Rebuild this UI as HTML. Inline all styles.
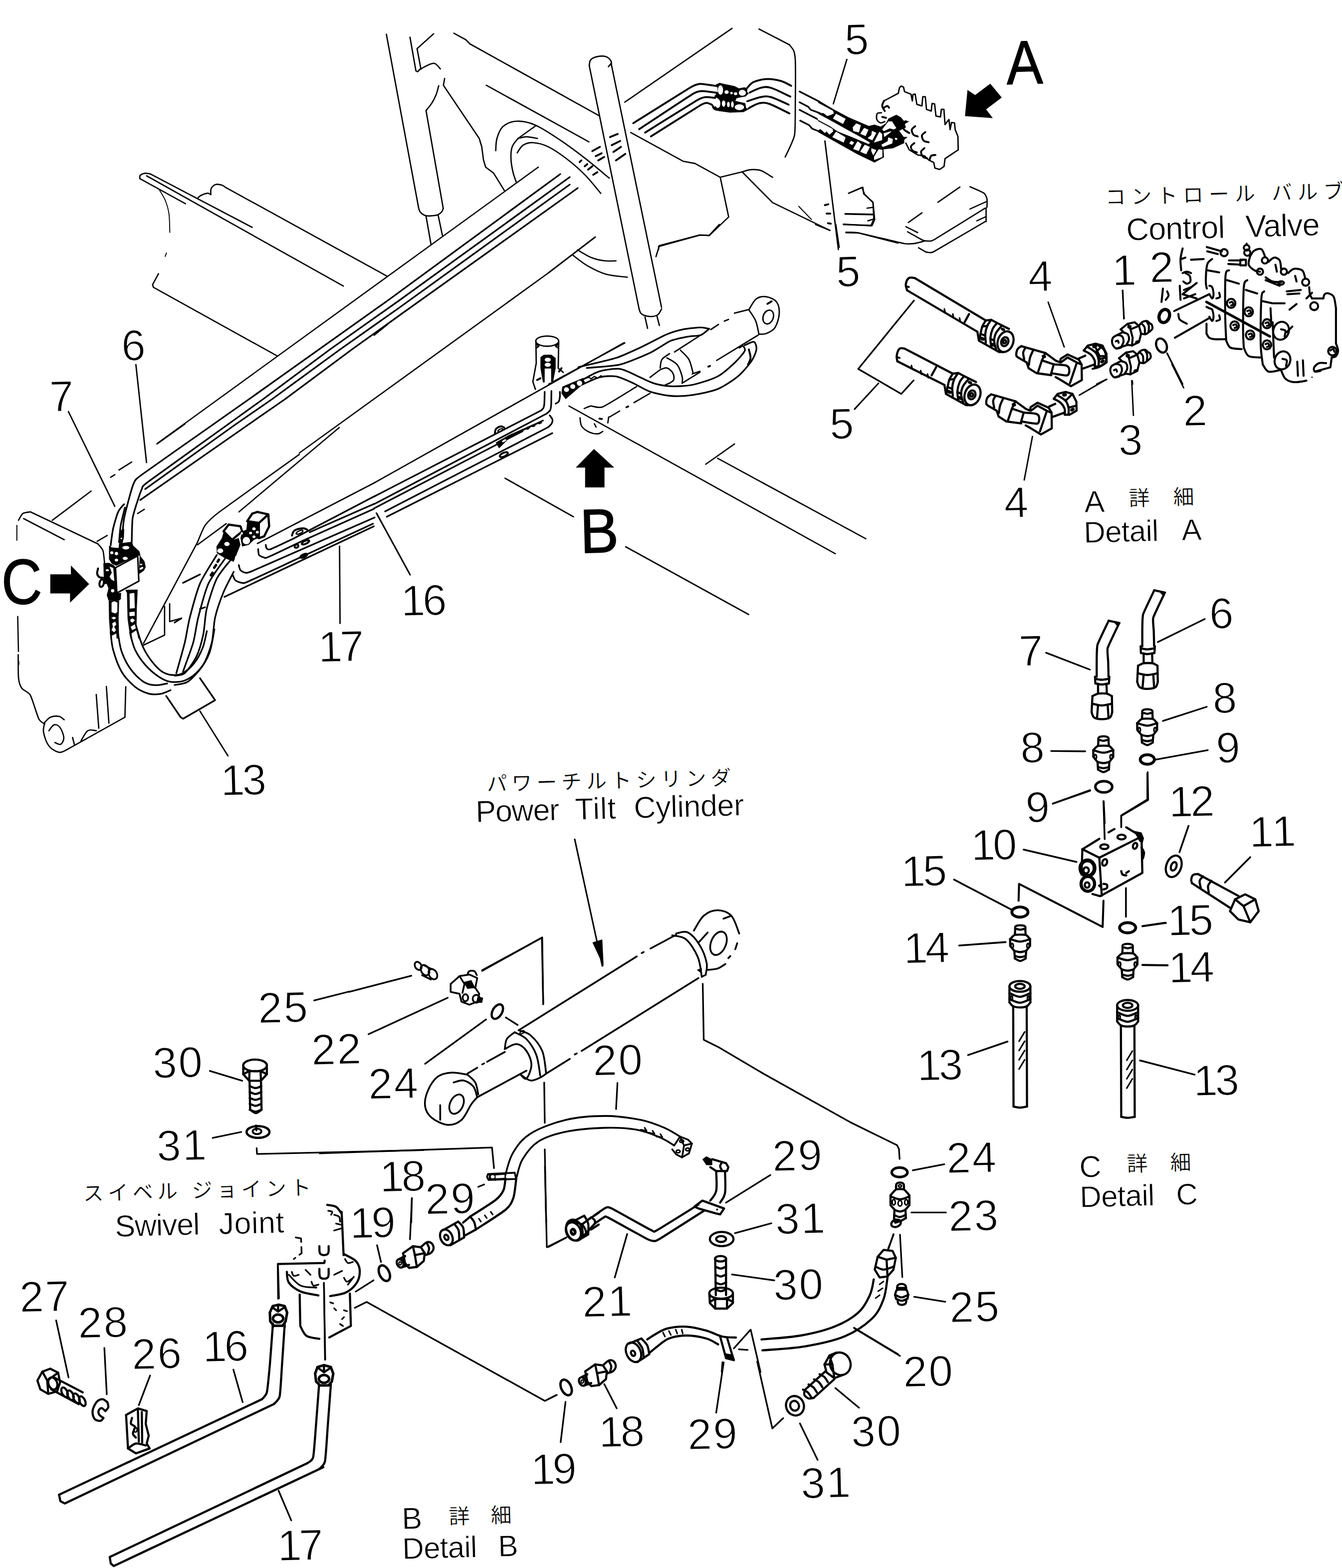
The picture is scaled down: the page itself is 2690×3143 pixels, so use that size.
<!DOCTYPE html>
<html lang="ja"><head><meta charset="utf-8"><title>Power Tilt Cylinder Piping</title>
<style>
html,body{margin:0;padding:0;background:#fff}
body{width:2690px;height:3143px;overflow:hidden}
svg{display:block}
text{font-family:"Liberation Sans","Noto Sans CJK JP",sans-serif;fill:#000;stroke:#fff;stroke-linejoin:round}
.tb{stroke:#000;stroke-width:1.4px}.t1{stroke-width:1.6px;letter-spacing:3px}.t2{stroke-width:0.8px}.t3{stroke-width:0.4px}
</style></head><body>
<svg width="2690" height="3143" viewBox="0 0 2690 3143" fill="none" stroke="#000" stroke-width="3.3" stroke-linecap="round" stroke-linejoin="round">
<rect x="0" y="0" width="2690" height="3143" fill="#fff" stroke="none"/>
<g>
<text x="1693.8" y="109.6" font-size="87" transform="rotate(-1.5 1693.8 109.6)" class="t1">5</text>
<text x="2018.2" y="169.1" font-size="124" transform="rotate(-1.5 2018.2 169.1) translate(2018.2 169.1) scale(0.88 1) translate(-2018.2 -169.1)" class="tb">A</text>
<text x="1676.8" y="574.8" font-size="87" transform="rotate(-1.5 1676.8 574.8)" class="t1">5</text>
<text x="1663.8" y="880.1" font-size="87" transform="rotate(-1.5 1663.8 880.1)" class="t1">5</text>
<text x="4.1" y="1211.4" font-size="128" transform="rotate(-1.5 4.1 1211.4) translate(4.1 1211.4) scale(0.88 1) translate(-4.1 -1211.4)" class="tb">C</text>
<text x="244" y="723" font-size="87" transform="rotate(-1.5 244 723)" class="t1">6</text>
<text x="100" y="825" font-size="87" transform="rotate(-1.5 100 825)" class="t1">7</text>
<text x="804.5" y="1234.6" font-size="87" style="letter-spacing:-5px" transform="rotate(-1.5 804.5 1234.6)" class="t1">16</text>
<text x="638.7" y="1327" font-size="87" style="letter-spacing:-5px" transform="rotate(-1.5 638.7 1327)" class="t1">17</text>
<text x="1163.5" y="1108.5" font-size="125" transform="rotate(-1.5 1163.5 1108.5) translate(1163.5 1108.5) scale(0.93 1) translate(-1163.5 -1108.5)" class="tb">B</text>
<text x="443" y="1594.6" font-size="87" style="letter-spacing:-5px" transform="rotate(-1.5 443 1594.6)" class="t1">13</text>
<text x="2061.8" y="584.1" font-size="87" transform="rotate(-1.5 2061.8 584.1)" class="t1">4</text>
<text x="2013.4" y="1037.6" font-size="87" transform="rotate(-1.5 2013.4 1037.6)" class="t1">4</text>
<text x="2230" y="572.3" font-size="87" transform="rotate(-1.5 2230 572.3)" class="t1">1</text>
<text x="2242.5" y="912.4" font-size="87" transform="rotate(-1.5 2242.5 912.4)" class="t1">3</text>
<text x="2216" y="410" font-size="41" textLength="478" lengthAdjust="spacing" transform="rotate(-1.5 2216 410)" class="t3">コントロール バルブ</text>
<text x="2258" y="482" font-size="63" textLength="198" lengthAdjust="spacing" transform="rotate(-1.5 2258 482)" class="t2">Control</text>
<text x="2497" y="475.5" font-size="63" textLength="149" lengthAdjust="spacing" transform="rotate(-1.5 2497 475.5)" class="t2">Valve</text>
<text x="2304.9" y="566.3" font-size="87" transform="rotate(-1.5 2304.9 566.3)" class="t1">2</text>
<text x="2371.9" y="853.8" font-size="87" transform="rotate(-1.5 2371.9 853.8)" class="t1">2</text>
<text x="2174" y="1027" font-size="61" transform="rotate(-1.5 2174 1027)" class="t2">A</text>
<text x="2263" y="1014" font-size="42" transform="rotate(-1.5 2263 1014)" class="t3">詳</text>
<text x="2352" y="1011.5" font-size="42" transform="rotate(-1.5 2352 1011.5)" class="t3">細</text>
<text x="2173" y="1088" font-size="60" textLength="150" lengthAdjust="spacing" transform="rotate(-1.5 2173 1088)" class="t2">Detail</text>
<text x="2369" y="1083" font-size="60" transform="rotate(-1.5 2369 1083)" class="t2">A</text>
<text x="2424.7" y="1260.3" font-size="87" transform="rotate(-1.5 2424.7 1260.3)" class="t1">6</text>
<text x="2431.5" y="1429.5" font-size="87" transform="rotate(-1.5 2431.5 1429.5)" class="t1">8</text>
<text x="2438.3" y="1529.3" font-size="87" transform="rotate(-1.5 2438.3 1529.3)" class="t1">9</text>
<text x="2343.5" y="1637.6" font-size="87" style="letter-spacing:-5px" transform="rotate(-1.5 2343.5 1637.6)" class="t1">12</text>
<text x="2056.6" y="1648.4" font-size="87" transform="rotate(-1.5 2056.6 1648.4)" class="t1">9</text>
<text x="1947.3" y="1724.6" font-size="87" style="letter-spacing:-5px" transform="rotate(-1.5 1947.3 1724.6)" class="t1">10</text>
<text x="1807.2" y="1777" font-size="87" style="letter-spacing:-5px" transform="rotate(-1.5 1807.2 1777)" class="t1">15</text>
<text x="1812" y="1931" font-size="87" style="letter-spacing:-5px" transform="rotate(-1.5 1812 1931)" class="t1">14</text>
<text x="2043" y="1335" font-size="87" transform="rotate(-1.5 2043 1335)" class="t1">7</text>
<text x="2046" y="1529" font-size="87" transform="rotate(-1.5 2046 1529)" class="t1">8</text>
<text x="2505" y="1698" font-size="87" transform="rotate(-1.5 2505 1698)" class="t1">11</text>
<text x="2341" y="1875.6" font-size="87" style="letter-spacing:-5px" transform="rotate(-1.5 2341 1875.6)" class="t1">15</text>
<text x="2343" y="1970" font-size="87" style="letter-spacing:-5px" transform="rotate(-1.5 2343 1970)" class="t1">14</text>
<text x="1839" y="2166" font-size="87" style="letter-spacing:-5px" transform="rotate(-1.5 1839 2166)" class="t1">13</text>
<text x="2393" y="2196.6" font-size="87" style="letter-spacing:-5px" transform="rotate(-1.5 2393 2196.6)" class="t1">13</text>
<text x="2164" y="2360" font-size="61" transform="rotate(-1.5 2164 2360)" class="t2">C</text>
<text x="2259" y="2348" font-size="42" transform="rotate(-1.5 2259 2348)" class="t3">詳</text>
<text x="2346" y="2345.5" font-size="42" transform="rotate(-1.5 2346 2345.5)" class="t3">細</text>
<text x="2165" y="2420" font-size="60" textLength="150" lengthAdjust="spacing" transform="rotate(-1.5 2165 2420)" class="t2">Detail</text>
<text x="2358" y="2415" font-size="60" transform="rotate(-1.5 2358 2415)" class="t2">C</text>
<text x="976" y="1586" font-size="41" textLength="490" lengthAdjust="spacing" transform="rotate(-1.5 976 1586)" class="t3">パワーチルトシリンダ</text>
<text x="954" y="1648" font-size="61" textLength="168" lengthAdjust="spacing" transform="rotate(-1.5 954 1648)" class="t2">Power</text>
<text x="1153" y="1643" font-size="61" textLength="82" lengthAdjust="spacing" transform="rotate(-1.5 1153 1643)" class="t2">Tilt</text>
<text x="1271" y="1640" font-size="61" textLength="221" lengthAdjust="spacing" transform="rotate(-1.5 1271 1640)" class="t2">Cylinder</text>
<text x="1189" y="2156" font-size="87" transform="rotate(-1.5 1189 2156)" class="t1">20</text>
<text x="739" y="2203" font-size="87" transform="rotate(-1.5 739 2203)" class="t1">24</text>
<text x="762" y="2389" font-size="87" style="letter-spacing:-5px" transform="rotate(-1.5 762 2389)" class="t1">18</text>
<text x="853" y="2434" font-size="87" transform="rotate(-1.5 853 2434)" class="t1">29</text>
<text x="518" y="2050.7" font-size="87" transform="rotate(-1.5 518 2050.7)" class="t1">25</text>
<text x="625" y="2134.4" font-size="87" transform="rotate(-1.5 625 2134.4)" class="t1">22</text>
<text x="307" y="2161" font-size="87" transform="rotate(-1.5 307 2161)" class="t1">30</text>
<text x="315" y="2327" font-size="87" transform="rotate(-1.5 315 2327)" class="t1">31</text>
<text x="167" y="2407" font-size="41" textLength="457" lengthAdjust="spacing" transform="rotate(-1.5 167 2407)" class="t3">スイベル ジョイント</text>
<text x="231" y="2479" font-size="61" textLength="170" lengthAdjust="spacing" transform="rotate(-1.5 231 2479)" class="t2">Swivel</text>
<text x="439" y="2474" font-size="61" textLength="131" lengthAdjust="spacing" transform="rotate(-1.5 439 2474)" class="t2">Joint</text>
<text x="40" y="2630" font-size="87" transform="rotate(-1.5 40 2630)" class="t1">27</text>
<text x="157" y="2682" font-size="87" transform="rotate(-1.5 157 2682)" class="t1">28</text>
<text x="265" y="2744.7" font-size="87" transform="rotate(-1.5 265 2744.7)" class="t1">26</text>
<text x="407" y="2729.7" font-size="87" style="letter-spacing:-5px" transform="rotate(-1.5 407 2729.7)" class="t1">16</text>
<text x="557" y="3128.5" font-size="87" style="letter-spacing:-5px" transform="rotate(-1.5 557 3128.5)" class="t1">17</text>
<text x="702" y="2482" font-size="87" style="letter-spacing:-5px" transform="rotate(-1.5 702 2482)" class="t1">19</text>
<text x="1065" y="2975.7" font-size="87" style="letter-spacing:-5px" transform="rotate(-1.5 1065 2975.7)" class="t1">19</text>
<text x="1168" y="2640" font-size="87" transform="rotate(-1.5 1168 2640)" class="t1">21</text>
<text x="1549" y="2347.4" font-size="87" transform="rotate(-1.5 1549 2347.4)" class="t1">29</text>
<text x="1555" y="2473.8" font-size="87" transform="rotate(-1.5 1555 2473.8)" class="t1">31</text>
<text x="1551" y="2606" font-size="87" transform="rotate(-1.5 1551 2606)" class="t1">30</text>
<text x="1201" y="2900.7" font-size="87" style="letter-spacing:-5px" transform="rotate(-1.5 1201 2900.7)" class="t1">18</text>
<text x="1379" y="2905.5" font-size="87" transform="rotate(-1.5 1379 2905.5)" class="t1">29</text>
<text x="1606" y="3003.4" font-size="87" transform="rotate(-1.5 1606 3003.4)" class="t1">31</text>
<text x="1707" y="2900" font-size="87" transform="rotate(-1.5 1707 2900)" class="t1">30</text>
<text x="806" y="3065" font-size="61" transform="rotate(-1.5 806 3065)" class="t2">B</text>
<text x="900" y="3055" font-size="42" transform="rotate(-1.5 900 3055)" class="t3">詳</text>
<text x="984" y="3052.5" font-size="42" transform="rotate(-1.5 984 3052.5)" class="t3">細</text>
<text x="807" y="3125" font-size="60" textLength="150" lengthAdjust="spacing" transform="rotate(-1.5 807 3125)" class="t2">Detail</text>
<text x="999" y="3120" font-size="60" transform="rotate(-1.5 999 3120)" class="t2">B</text>
<text x="1898" y="2351.5" font-size="87" transform="rotate(-1.5 1898 2351.5)" class="t1">24</text>
<text x="1902" y="2468" font-size="87" transform="rotate(-1.5 1902 2468)" class="t1">23</text>
<text x="1904" y="2650.7" font-size="87" transform="rotate(-1.5 1904 2650.7)" class="t1">25</text>
<text x="1811" y="2780" font-size="87" transform="rotate(-1.5 1811 2780)" class="t1">20</text>
</g>
<!-- 00_global.py -->
<path d="M315 889 L1079 335" stroke-width="2.54"/>
<path d="M428.3 850 L498 801 L780.5 600 L1123 349"/>
<path d="M457.9 850 L527.5 800 L662 700 L800 602.3 L1142 355"/>
<path d="M473.2 850 L545.5 800 L682.3 700 L800 617 L1142 370"/>
<path d="M499.5 850 L571.5 800 L706 700 L800 632.7 L1158 377"/>
<path d="M600 908 L1100 546.5 L1193 475" stroke-width="2.67"/>
<path d="M479 1026 L680 857" stroke-width="2.67"/>
<path d="M1181 131 L1281 619" stroke-width="2.67"/>
<path d="M1225 127 L1326 616" stroke-width="2.67"/>
<path d="M516 1089.4 L750 968 L1251 687" stroke-width="2.79"/>
<!-- 01_blade.py -->
<path d="M300.8 348.4 C299.1 348.2 293.9 346.9 290.6 347.4 C287.3 347.9 282.8 349.6 281.1 351.4 C279.4 353.2 280.6 357.1 280.5 358.2" stroke-width="2.67"/>
<path d="M300.8 348.4 L505.5 455.7" stroke-width="2.67"/>
<path d="M294 352.5 L688.2 573.4" stroke-width="2.67"/>
<path d="M280.5 358.2 L371.8 408.3" stroke-width="2.67"/>
<path d="M319.4 380.5 C321.4 384.0 328.0 393.5 331.2 401.5 C334.4 409.5 337.2 417.9 338.7 428.6 C340.2 439.3 340.1 459.6 340.4 465.8" stroke-width="1.91"/>
<path d="M333.6 507.1 L331.2 513.9" stroke-width="1.91"/>
<path d="M317.7 548.7 L305.8 570.7 L307.5 575.8 L554.6 712.9" stroke-width="2.67"/>
<path d="M395.5 398.1 C396.6 397.1 398.9 393.8 402.3 392 C405.7 390.2 412.4 387.6 415.8 387.3 C419.2 387.0 421.5 389.6 422.6 390" stroke-width="2.67"/>
<path d="M422.6 390 C422.7 388.0 421.6 381.2 423.3 377.8 C425.0 374.4 429.1 370.8 432.7 369.7 C436.2 368.6 441.2 370.0 444.6 371.1 C448.0 372.2 451.6 375.3 453 376.1" stroke-width="2.67"/>
<path d="M453 376.1 L776.2 553.8" stroke-width="2.67"/>
<!-- 02_topmid.py -->
<path d="M774.5 68.7 L838.7 414.6" stroke-width="2.67"/>
<path d="M838.7 414.6 C839.3 416.3 839.8 421.8 842.1 424.7 C844.4 427.6 848.3 430.8 852.3 432.1 C856.2 433.4 861.6 432.8 865.8 432.5 C870.0 432.2 874.4 431.8 877.7 430.5 C881.0 429.2 883.6 426.8 885.4 424.7 C887.2 422.6 888.0 419.0 888.5 417.9" stroke-width="2.67"/>
<path d="M854 221.7 L888.5 417.9" stroke-width="2.67"/>
<path d="M854 221.7 C856.0 219.1 862.4 211.8 865.8 206.4 C869.2 201.0 872.0 195.2 874.3 189.5 C876.6 183.8 878.5 174.8 879.4 171.9" stroke-width="2.67"/>
<path d="M854 433.2 L864.1 490.7" stroke-width="2.67"/>
<path d="M878.3 431.5 L886.8 472.1" stroke-width="2.67"/>
<path d="M821.8 74.5 L833.7 142.1 L837.1 143.8 L842.1 138.7" stroke-width="2.67"/>
<path d="M869.2 67.7 L836 97.5 L843.8 138.7" stroke-width="2.67"/>
<path d="M842.1 138.7 C845.5 137.0 857.3 130.4 862.4 128.6 C867.5 126.8 869.2 126.3 872.6 127.9 C876.0 129.5 881.0 136.4 882.7 138.1" stroke-width="2.67"/>
<path d="M891.2 157.4 L888.8 170.9 L960.6 277.5 L965.7 294.4 L969 319.8 L973.4 335 L989.3 346.9 L1011.3 382.4" stroke-width="2.67"/>
<path d="M909.8 66.7 L933.5 79.5 L942 88 L1200.8 231.8" stroke-width="2.67"/>
<path d="M974.8 170.9 L1180.5 284.3" stroke-width="2.67"/>
<path d="M993.7 301.9 C994.1 297.8 993.7 285.5 996.1 277.5 C998.5 269.5 1001.5 259.6 1008 253.8 C1014.5 248.1 1024.3 243.6 1035 243 C1045.7 242.4 1057.6 244.1 1072.3 250.4 C1087.0 256.7 1106.1 269.6 1123 280.9 C1139.9 292.2 1157.4 305.4 1173.8 318.1 C1190.2 330.8 1213.3 350.5 1221.2 357" stroke-width="2.67"/>
<path d="M1073.9 252.1 L1038.4 277.5" stroke-width="2.67"/>
<path d="M1038.4 277.5 C1041.2 276.9 1048.8 274.1 1055.3 274.1 C1061.8 274.1 1073.6 276.9 1077.3 277.5" stroke-width="2.67"/>
<path d="M1036.7 306.3 C1038.7 303.8 1043.2 294.4 1048.6 291 C1054.0 287.6 1060.5 285.4 1068.9 286 C1077.4 286.6 1087.5 288.5 1099.3 294.4 C1111.1 300.3 1127.5 311.9 1139.9 321.5 C1152.3 331.1 1163.1 340.9 1173.8 351.9 C1184.5 362.9 1199.1 381.6 1204.2 387.5" stroke-width="2.67"/>
<path d="M1038.4 277.5 C1036.4 280.3 1029.0 287.6 1026.6 294.4 C1024.2 301.2 1023.9 309.6 1024.2 318.1 C1024.5 326.6 1026.5 337.3 1028.3 345.2 C1030.1 353.1 1033.9 362.1 1035 365.5" stroke-width="2.67"/>
<path d="M1181.2 132 C1181.7 130.0 1181.2 123.2 1183.9 120.1 C1186.6 117.0 1192.4 114.5 1197.5 113.4 C1202.6 112.3 1209.9 112.0 1214.4 113.4 C1218.9 114.8 1222.7 119.0 1224.5 121.8 C1226.3 124.6 1225.1 128.9 1225.2 130.3" stroke-width="2.67"/>
<path d="M1219.5 133.7 L1225.2 126.9" stroke-width="2.67"/>
<path d="M1222.8 274.8 L1238.1 268.4" stroke-width="3.81"/>
<path d="M1226.2 291 L1243.1 282.6" stroke-width="3.81"/>
<path d="M1229.6 304.6 L1244.8 294.4" stroke-width="3.81"/>
<path d="M1234.7 321.5 L1253.3 308.6" stroke-width="3.81"/>
<path d="M1187.3 302.9 L1202.5 294.4" stroke-width="3.81"/>
<path d="M1194.1 313 L1205.9 307.3" stroke-width="3.81"/>
<path d="M1199.2 321.5 L1211 314.7" stroke-width="3.81"/>
<path d="M1161.9 324.9 L1165.3 321.5" stroke-width="3.81"/>
<path d="M1172.1 333.3 L1177.2 328.9" stroke-width="3.81"/>
<path d="M1178.8 340.1 L1187.3 333.3" stroke-width="3.81"/>
<path d="M1189 350.3 L1197.5 345.2" stroke-width="3.81"/>
<!-- 03_topright.py -->
<path d="M1252.5 204.7 L1467.3 56.9" stroke-width="2.67"/>
<path d="M1521.5 58.2 L1582.4 89.7" stroke-width="2.67"/>
<path d="M1582.4 89.7 C1583.2 90.9 1589.7 98.3 1590.9 101.5 C1592.1 104.7 1593.9 111.6 1594.2 121.8 C1594.5 131.9 1594.4 188.1 1594.2 203 C1594.0 217.9 1594.6 259.5 1592.6 270.7 C1590.6 281.9 1575.8 310.3 1573.9 314.7" stroke-width="2.67"/>
<path d="M1269.4 247 C1278.8 241.1 1371.6 182.6 1382.7 176 C1393.8 169.4 1398.5 168.5 1403 168.2 C1407.5 167.9 1434.1 172.2 1436.9 172.6" stroke-width="3.81"/>
<path d="M1281.2 258.9 C1290.2 253.0 1378.8 194.2 1389.5 187.8 C1400.2 181.5 1405.8 182.8 1409.8 182.7 C1413.8 182.6 1434.6 185.8 1436.9 186.1" stroke-width="3.81"/>
<path d="M1293.1 265.7 C1302.0 260.2 1389.4 205.6 1399.7 199.7 C1410.0 193.8 1413.8 194.9 1416.6 194.6 C1419.4 194.3 1432.1 196.2 1433.5 196.3" stroke-width="3.81"/>
<path d="M1304.9 273.4 C1313.1 268.2 1393.7 217.1 1403 211.5 C1412.3 205.9 1414.6 206.5 1416.6 206.4 C1418.6 206.3 1425.4 208.8 1426.7 209.8 C1428.0 210.8 1431.4 217.6 1431.8 218.3" stroke-width="3.81"/>
<path d="M1434.3 169.7 L1442.4 166.1 L1450.5 167.9 L1472.2 172.4 L1481.2 176.9 L1492.1 175.1 L1498.4 176.9 L1497.5 184.2 L1501.1 186.9 L1494.8 193.2 L1476.7 196.8 L1474 202.2 L1493.9 206.7 L1495.7 216.6 L1502 218.4 L1490.3 224.8 L1463.2 225.7 L1443.3 223 L1433.4 221.2 L1427.1 215.7 L1434.3 213 L1440.6 198.6 L1431.6 193.2 L1438.8 184.2 L1437.9 175.1 Z" fill="#000" stroke="none" stroke-width="0"/>
<ellipse cx="1456.4" cy="184.6" rx="4.1" ry="3.6" stroke-width="0" fill="#fff"/>
<ellipse cx="1466.3" cy="186.4" rx="2.5" ry="2.5" stroke-width="0" fill="#fff"/>
<ellipse cx="1474.5" cy="187.8" rx="3.6" ry="2.9" stroke-width="0" fill="#fff"/>
<ellipse cx="1488" cy="186" rx="7.2" ry="5.9" stroke-width="0" fill="#fff"/>
<ellipse cx="1450.5" cy="207.6" rx="3.6" ry="6.3" stroke-width="0" fill="#fff"/>
<ellipse cx="1460" cy="209.4" rx="2.7" ry="5.4" stroke-width="0" fill="#fff"/>
<ellipse cx="1468.1" cy="209.4" rx="2.7" ry="6.3" stroke-width="0" fill="#fff"/>
<ellipse cx="1482.1" cy="214.8" rx="9.5" ry="5.9" stroke-width="0" fill="#fff"/>
<ellipse cx="1444.2" cy="180.5" rx="5.2" ry="9.5" stroke-width="0" fill="#fff"/>
<ellipse cx="1438.8" cy="207.6" rx="5.2" ry="9" stroke-width="0" fill="#fff"/>
<path d="M1497.8 176 C1500.0 174.0 1504.5 167.0 1511.3 164.1 C1518.1 161.2 1529.4 158.7 1538.4 158.4 C1547.4 158.1 1557.6 160.2 1565.5 162.4 C1573.4 164.7 1582.4 170.3 1585.8 171.9" stroke-width="3.81"/>
<path d="M1502.9 185.4 C1506.6 183.8 1517.9 177.6 1524.9 176 C1532.0 174.4 1535.3 173.1 1545.2 176 C1555.1 178.9 1577.6 190.7 1584.1 193.6" stroke-width="3.81"/>
<path d="M1497.8 203 C1502.3 201.6 1517.0 196.0 1524.9 194.6 C1532.8 193.2 1535.9 192.1 1545.2 194.6 C1554.5 197.1 1574.8 207.3 1580.7 209.8" stroke-width="3.81"/>
<path d="M1501.2 216.6 C1504.6 215.0 1514.7 208.5 1521.5 207.1 C1528.3 205.7 1531.6 204.7 1541.8 208.1 C1552.0 211.5 1575.6 224.2 1582.4 227.4" stroke-width="3.81"/>
<path d="M1602.8 183.5 L1641 203" stroke-width="3.43"/>
<path d="M1602.8 205 L1620 214 L1625 220 L1641 226" stroke-width="3.43"/>
<path d="M1602.8 220.3 L1641 240" stroke-width="3.43"/>
<path d="M1604 241.8 L1622 251 L1628 258 L1641 263" stroke-width="3.43"/>
<path d="M1640 200.7 L1670.5 218.8 L1699.8 234.6 L1725.7 245.8 L1741.5 252.6 L1752.8 249.8 L1765.2 253.7 L1775.4 247.5 L1781 237.4 L1796.8 230 L1805.8 235.1 L1811.5 241.9 L1822.7 243 L1813.7 248.7 L1816 255.4 L1802.4 262.2 L1811.5 274.6 L1819.4 274.6 L1812.6 280.2 L1812.6 287 L1802.4 291.5 L1790 297.2 L1770.9 299.4 L1772 315.2 L1752.8 325.9 L1747.2 323.1 L1719 309.6 L1685.1 290.4 L1656.9 274.6 L1640 265 Z" fill="#000" stroke="none" stroke-width="0"/>
<path d="M1640 206.9 L1669.3 222.7 L1670.5 227.2 L1662.6 230.6 L1658 231.7 L1651.3 226.1 L1646.8 226.1 L1640 222.7 Z" fill="#fff" stroke="#fff" stroke-width="1.5" stroke-linejoin="round"/>
<path d="M1676.1 228.9 L1694.1 238.5 L1689.6 247.5 L1670.5 237.4 Z" fill="#fff" stroke="#fff" stroke-width="1.5" stroke-linejoin="round"/>
<path d="M1716.7 248.1 L1724.6 251.5 L1721.2 264.5 L1711.1 262.2 L1709.9 255.4 Z" fill="#fff" stroke="#fff" stroke-width="1.5" stroke-linejoin="round"/>
<path d="M1732.5 257.1 L1739.8 260.5 L1734.8 271.8 L1725.2 267.8 Z" fill="#fff" stroke="#fff" stroke-width="1.5" stroke-linejoin="round"/>
<path d="M1748.3 263.3 L1755.6 266.7 L1748.3 280.2 L1740.4 276.9 L1747.2 271.2 Z" fill="#fff" stroke="#fff" stroke-width="1.5" stroke-linejoin="round"/>
<path d="M1763 265 L1767.5 269 L1767.5 280.2 L1752.8 284.8 Z" fill="#fff" stroke="#fff" stroke-width="1.5" stroke-linejoin="round"/>
<path d="M1640 228.9 L1668.2 244.1 L1696.4 259.9 L1721.2 273.5 L1742.7 285.9 L1741.5 288.1 L1707.7 274 L1679.5 262.8 L1662.6 251.5 L1640 239.6 Z" fill="#fff" stroke="#fff" stroke-width="1.5" stroke-linejoin="round"/>
<path d="M1640 243.6 L1668.2 258.8 L1669.3 263.3 L1662.6 269 L1656.9 262.2 L1653.5 265.6 L1644.5 257.7 L1640 260.5 Z" fill="#fff" stroke="#fff" stroke-width="1.5" stroke-linejoin="round"/>
<path d="M1676.1 265 L1694.1 275.7 L1690.8 284.8 L1669.3 274.6 Z" fill="#fff" stroke="#fff" stroke-width="1.5" stroke-linejoin="round"/>
<path d="M1706.6 283.1 L1711.1 285.9 L1707.7 289.8 L1703.2 287 Z" fill="#fff" stroke="#fff" stroke-width="1.5" stroke-linejoin="round"/>
<path d="M1719 284.2 L1726.3 289.3 L1721.2 301.7 L1711.1 298.3 Z" fill="#fff" stroke="#fff" stroke-width="1.5" stroke-linejoin="round"/>
<path d="M1733.6 291 L1742.7 294.9 L1735.9 308.4 L1725.2 303.9 Z" fill="#fff" stroke="#fff" stroke-width="1.5" stroke-linejoin="round"/>
<path d="M1747.2 298.3 L1755.6 301.1 L1750.5 310.1 L1747.2 302.8 Z" fill="#fff" stroke="#fff" stroke-width="1.5" stroke-linejoin="round"/>
<path d="M1761.8 300 L1768 301.1 L1768 314.1 L1752.8 319.7 L1752.8 314.1 Z" fill="#fff" stroke="#fff" stroke-width="1.5" stroke-linejoin="round"/>
<path d="M1781 244.1 L1787.8 244.1 L1795.7 256.6 L1791.2 258.8 L1783.3 256.6 L1772 262.2 L1769.2 259.4 Z" fill="#fff" stroke="#fff" stroke-width="1.5" stroke-linejoin="round"/>
<path d="M1772 267.8 L1785.5 263.9 L1773.1 273.5 Z" fill="#fff" stroke="#fff" stroke-width="1.5" stroke-linejoin="round"/>
<path d="M1781 276.3 L1788.9 279.1 L1787.8 287 L1769.7 293.8 L1767.5 290.4 L1779.9 283.6 Z" fill="#fff" stroke="#fff" stroke-width="1.5" stroke-linejoin="round"/>
<path d="M1794.5 276.9 L1797.9 277.4 L1797.4 279.7 L1794.8 279.3 Z" fill="#fff" stroke="#fff" stroke-width="1.5" stroke-linejoin="round"/>
<path d="M1697.5 119.1 L1670.4 208.1" stroke-width="2.79"/>
<path d="M1653.5 282.6 L1680.5 500.2" stroke-width="2.79"/>
<path d="M1264.3 265.7 L1369.2 323.2 L1392.9 327.6 L1443.7 355.3 L1487.6 344.5" stroke-width="2.67"/>
<path d="M1487.6 344.5 C1490.4 343.8 1498.4 340.6 1504.6 340.1 C1510.8 339.7 1517.6 339.3 1524.9 341.8 C1532.2 344.3 1544.6 353.1 1548.6 355.3" stroke-width="2.67"/>
<path d="M1443.7 355.3 L1460.6 434.9 L1421.7 472.1 L1403 471.1 L1320.1 494.1 L1320.1 500.2" stroke-width="2.67"/>
<path d="M1487.6 344.5 L1548.6 406.1 L1663.6 461.9" stroke-width="2.67"/>
<path d="M1601 413.5 L1626.4 439.9" stroke-width="2.03"/>
<path d="M1700.8 387.5 L1727.9 375.6 L1733 389.2 L1749.9 406.1 L1753.3 439.9 L1748.2 451.8" stroke-width="2.67"/>
<path d="M1694.1 429.1 L1751.6 430.5" stroke-width="2.67"/>
<path d="M1690.7 450.1 L1748.2 451.8" stroke-width="2.67"/>
<path d="M1695.8 466.3 L1721.2 467 L1800 487.3" stroke-width="2.67"/>
<path d="M1653.5 411.2 L1660.2 409.5" stroke-width="3.81"/>
<path d="M1656.9 428.1 L1664.3 428.1" stroke-width="3.81"/>
<path d="M1659.6 447.4 L1665.3 448.4" stroke-width="3.81"/>
<!-- 04_valveA.py -->
<path d="M1934.3 232.7 L1939.3 180.3 L1954.6 190.4 L1985 167.8 L2008 195.5 L1976.6 219.2 L1990.1 236.8 Z" fill="#000" stroke="none" stroke-width="0"/>
<path d="M1771.8 202.3 L1800.6 187.1 L1803 175.9 L1806.3 172.5 L1811.1 174.5 L1813.1 183.7 L1826 188.7 L1828.7 202.3 L1830 189.4 L1834.4 188.7 L1837.8 209.1 L1848 212.4 L1849.7 193.8 L1854.7 193.8 L1857.1 219.2 L1866.6 222.6 L1868.3 207.4 L1873.4 208.4 L1876.1 232.7 L1885.2 234.4 L1886.9 219.2 L1892 219.2 L1894.3 249.7 L1902.1 239.5 L1904.5 259.8 L1907.2 245.6 L1913.3 246.3 L1914.6 259.8 L1920.1 273.4 L1920.7 300.4 L1894.3 318 L1892.3 333.6 L1883.5 339.7 L1874 337 L1871.7 325.8 L1861.5 320.7 L1853 312.3 L1839.5 310.6 L1822.6 300.4 L1815.8 286.9" stroke-width="2.79"/>
<path d="M1771.8 202.3 C1771.2 204.0 1768.1 209.0 1768.4 212.4 C1768.7 215.8 1772.7 220.9 1773.5 222.6" stroke-width="3.81"/>
<path d="M1766.8 226 C1765.4 226.3 1759.8 225.4 1758.3 227.7 C1756.8 229.9 1756.5 236.4 1757.6 239.5 C1758.7 242.6 1762.4 245.6 1765.1 246.3 C1767.8 247.0 1772.1 244.1 1773.5 243.6" stroke-width="2.79"/>
<path d="M1815.8 242.9 C1814.7 244.0 1809.7 246.9 1809.1 249.7 C1808.5 252.5 1810.2 257.0 1812.4 259.8 C1814.7 262.6 1820.9 265.5 1822.6 266.6" stroke-width="3.81"/>
<path d="M1834.4 253 C1833.3 254.1 1828.3 257.0 1827.7 259.8 C1827.1 262.6 1829.0 267.7 1831 270 C1833.0 272.3 1838.1 272.8 1839.5 273.4" stroke-width="3.81"/>
<path d="M1854.7 264.9 C1853.6 266.0 1848.5 268.9 1848 271.7 C1847.5 274.5 1849.2 279.6 1851.4 281.8 C1853.7 284.1 1859.8 284.6 1861.5 285.2" stroke-width="3.81"/>
<path d="M1832.7 286.9 C1831.6 288.0 1826.5 291.2 1826 293.7 C1825.5 296.2 1827.4 300.1 1829.4 302.1 C1831.4 304.1 1836.4 304.9 1837.8 305.5" stroke-width="3.81"/>
<path d="M1853 297 C1851.9 298.1 1846.8 301.0 1846.3 303.8 C1845.8 306.6 1847.7 311.8 1849.7 314 C1851.7 316.2 1856.7 316.8 1858.1 317.3" stroke-width="3.81"/>
<path d="M1875 310.6 C1873.6 310.9 1868.6 310.6 1866.6 312.3 C1864.6 314.0 1863.8 319.3 1863.2 320.7" stroke-width="3.81"/>
<path d="M1771.8 215.8 C1772.9 215.2 1776.9 212.4 1778.6 212.4 C1780.3 212.4 1781.4 215.2 1782 215.8" stroke-width="3.81"/>
<path d="M1768.4 234.4 L1775.9 236.1" stroke-width="3.81"/>
<path d="M1702.5 386.7 L1729.5 375.5 L1731.2 388.4 L1749.8 405.3 L1751.5 439.2 L1746.4 451" stroke-width="2.67"/>
<path d="M1738 417.2 L1750.8 415.5" stroke-width="2.67"/>
<path d="M1739.7 442.6 L1750.8 439.2" stroke-width="2.67"/>
<path d="M1694 428.3 L1751.5 429.7" stroke-width="2.67"/>
<path d="M1690.6 449.3 L1746.4 452.7" stroke-width="2.67"/>
<path d="M1695.7 465.6 C1697.9 465.7 1710.8 465.1 1717.7 466.2 C1724.6 467.3 1755.6 474.9 1765.1 477.1 C1774.6 479.3 1805.6 487.1 1812.4 488.2 C1819.2 489.3 1828.6 488.7 1832.7 488.2 C1836.8 487.7 1851.0 483.7 1853 483.2" stroke-width="2.67"/>
<path d="M1944.4 374.2 C1947.6 375.7 1967.5 383.9 1971.5 386.7 C1975.5 389.5 1977.5 395.2 1978.3 398.6 C1979.1 402.0 1978.3 413.5 1978.3 415.5" stroke-width="2.67"/>
<path d="M1880.1 405.3 L1924.1 374.9" stroke-width="2.67"/>
<path d="M1944.4 418.9 L1978.3 403.6" stroke-width="2.67"/>
<path d="M1820.9 445.9 L1848 426.6" stroke-width="2.67"/>
<path d="M1815.8 454.4 L1839.5 466.2" stroke-width="2.67"/>
<path d="M1819.2 464.6 C1821.2 465.7 1846.9 480.3 1849.7 481.5 C1852.5 482.7 1859.9 483.3 1861.5 483.2 C1863.1 483.1 1865.8 484.2 1873.4 479.8 C1881.0 475.4 1968.1 421.4 1974.9 417.2" stroke-width="2.67"/>
<path d="M1976.6 417.2 L1976.6 444.2" stroke-width="2.67"/>
<path d="M1958 442.6 L1976.6 434.1" stroke-width="2.67"/>
<path d="M1841.2 496.7 C1842.2 497.3 1854.8 504.6 1856.4 505.2 C1858.0 505.8 1863.8 506.3 1864.9 506.2 C1866.0 506.1 1866.1 507.6 1873.4 503.5 C1880.7 499.4 1968.1 448.2 1974.9 444.2" stroke-width="2.67"/>
<!-- 05_cylmain.py -->
<path d="M1281 619.2 C1281.8 620.9 1282.4 626.9 1286.1 629.4 C1289.8 631.9 1297.6 634.1 1303 634.4 C1308.4 634.7 1314.5 633.5 1318.3 631 C1322.1 628.5 1324.8 621.2 1326.1 619.2" stroke-width="2.67"/>
<path d="M1292.9 635.4 L1298 658.1" stroke-width="2.67"/>
<path d="M1316.6 632.7 L1321.7 652.4" stroke-width="2.67"/>
<path d="M1100 546.4 L1193.1 475.4" stroke-width="2.67"/>
<path d="M1157.5 500.8 C1162.0 503.3 1175.6 512.3 1184.6 516 C1193.6 519.7 1203.3 521.7 1211.7 522.8 C1220.1 523.9 1230.9 522.8 1234.7 522.8" stroke-width="2.67"/>
<path d="M1147.4 510.9 C1152.5 514.6 1166.5 526.4 1177.8 532.9 C1189.1 539.4 1201.8 546.0 1215.1 549.8 C1228.4 553.6 1250.4 554.6 1257.4 555.6" stroke-width="2.67"/>
<path d="M1441.8 450 L1421.5 472 L1402.9 471 L1321.7 492.3 L1314.9 514.3" stroke-width="2.67"/>
<path d="M1634.7 450 L1663.5 461.8" stroke-width="2.67"/>
<path d="M1675.3 450 L1682.1 495.7" stroke-width="2.79"/>
<path d="M1501 620.9 C1503.5 617.2 1510.3 603.2 1516.2 598.9 C1522.1 594.5 1529.7 593.7 1536.5 594.8 C1543.3 595.9 1552.7 599.9 1556.9 605.7 C1561.1 611.5 1562.5 621.0 1561.9 629.4 C1561.3 637.8 1557.7 649.9 1553.5 656.4 C1549.3 662.9 1541.9 666.0 1536.5 668.3 C1531.1 670.6 1523.8 669.7 1521.3 670" stroke-width="2.79"/>
<ellipse cx="1539.9" cy="635.4" rx="10.2" ry="14.2" transform="rotate(20 1539.9 635.4)" stroke-width="2.79"/>
<path d="M1501 620.9 C1503.3 624.6 1511.2 634.7 1514.6 642.9 C1518.0 651.1 1520.2 665.5 1521.3 670" stroke-width="2.79"/>
<path d="M1538.2 609.1 L1546.7 604" stroke-width="3.81"/>
<path d="M1472.3 627.7 L1499.3 620.9" stroke-width="2.79"/>
<path d="M1451.9 643.6 L1460.4 640.2" stroke-width="2.79"/>
<path d="M1440.1 650.3 L1424.9 660.5" stroke-width="2.79"/>
<path d="M1159.2 736 C1168.1 733.8 1220.2 722.2 1235.4 717.3 C1250.6 712.4 1277.7 699.2 1289.5 693.7 C1301.3 688.2 1327.4 674.0 1336.9 670 C1346.4 666.0 1362.8 661.4 1370.7 659.8 C1378.6 658.2 1398.7 656.5 1404.6 656.4 C1410.5 656.3 1419.5 658.8 1421.5 659.1"/>
<path d="M1176.1 737.6 C1183.8 736.8 1227.3 734.4 1242.1 730.9 C1256.9 727.4 1291.1 712.7 1303 707.2 C1314.9 701.7 1335.0 687.3 1343.7 683.5 C1352.4 679.7 1370.4 676.4 1377.5 675 C1384.6 673.6 1399.5 673.6 1404.6 671.7 C1409.7 669.8 1419.5 660.6 1421.5 659.1"/>
<path d="M1404.6 671.7 L1352.1 705.5" stroke-width="2.79"/>
<path d="M1519.6 671.7 L1436.7 722.4" stroke-width="2.79"/>
<path d="M1419.8 734.9 L1423.2 733.6" stroke-width="3.81"/>
<path d="M1402.9 746.1 L1367.3 768.1" stroke-width="2.79"/>
<path d="M1364 702.1 C1366.8 705.2 1376.7 713.1 1380.9 720.7 C1385.1 728.3 1387.9 743.3 1389.3 747.8" stroke-width="2.79"/>
<path d="M1342 708.9 C1339.5 710.9 1329.8 715.9 1326.7 720.7 C1323.6 725.5 1324.0 734.8 1323.4 737.6" stroke-width="2.79"/>
<path d="M1336.9 717.3 C1340.3 719.6 1352.1 724.7 1357.2 730.9 C1362.3 737.1 1365.6 748.4 1367.3 754.6 C1369.0 760.8 1367.3 765.9 1367.3 768.1" stroke-width="2.79"/>
<path d="M1387.6 749.5 L1402.9 744.4" stroke-width="2.79"/>
<path d="M1325 740.4 C1327.0 739.9 1333.0 736.4 1336.9 737.6 C1340.9 738.8 1346.5 743.8 1348.7 747.8 C1351.0 751.8 1351.5 757.9 1350.4 761.3 C1349.3 764.7 1343.4 767.0 1342 768.1" stroke-width="2.79"/>
<path d="M1323.4 741 L1303 756.3" stroke-width="2.79"/>
<path d="M1342 768.1 L1333.5 771.5" stroke-width="2.79"/>
<path d="M1167.7 761.3 C1172.2 759.0 1191.6 747.3 1201.5 744.4 C1211.4 741.5 1232.2 738.2 1242.1 739.3 C1252.0 740.4 1267.0 749.1 1276 752.9 C1285.0 756.7 1300.8 765.3 1309.8 768.1 C1318.8 770.9 1333.3 773.7 1343.7 774.2 C1354.1 774.7 1375.0 774.1 1387.6 771.5 C1400.2 768.9 1427.1 760.5 1438.4 754.6 C1449.7 748.7 1465.1 734.3 1472.3 727.5 C1479.5 720.7 1490.3 708.3 1492.6 703.8 C1494.9 699.3 1490.6 694.6 1489.2 693.7 C1487.8 692.8 1483.3 696.6 1482.4 697"/>
<path d="M1166 771.5 C1170.7 769.5 1192.2 758.6 1201.5 756.3 C1210.8 754.0 1226.4 753.0 1235.4 754.6 C1244.4 756.2 1260.2 764.0 1269.2 768.1 C1278.2 772.2 1293.1 781.6 1303 785 C1312.9 788.4 1332.4 792.6 1343.7 793.5 C1355.0 794.4 1375.0 793.6 1387.6 791.8 C1400.2 790.0 1426.2 784.9 1438.4 779.9 C1450.6 774.9 1470.0 762.0 1479 754.6 C1488.0 747.2 1501.1 731.3 1506.1 724.1 C1511.1 716.9 1515.5 705.6 1516.2 700.4 C1516.9 695.2 1514.3 686.3 1511.2 685.2 C1508.1 684.1 1495.1 691.1 1492.6 692"/>
<path d="M1501 700.4 C1501.6 703.2 1504.7 712.2 1504.4 717.3 C1504.1 722.4 1500.2 728.6 1499.3 730.9" stroke-width="3.81"/>
<path d="M1127.1 774.9 L1167.7 758 L1172.8 766.4 L1133.8 800.3 L1125.4 788.4 Z" fill="#000" stroke="none" stroke-width="0"/>
<ellipse cx="1135.5" cy="781" rx="5.1" ry="4.7" stroke-width="0" fill="#fff"/>
<ellipse cx="1148.1" cy="774.9" rx="5.1" ry="4.7" stroke-width="0" fill="#fff"/>
<ellipse cx="1161.6" cy="768.1" rx="5.4" ry="5.4" stroke-width="0" fill="#fff"/>
<path d="M1167.7 759.6 L1181.2 756.3 L1184.6 759.6 L1191.4 754.6 L1198.1 758 L1204.9 752.9" stroke-width="2.54"/>
<path d="M1100 769.8 L1252.3 687.6" stroke-width="2.67"/>
<path d="M1140.6 813.8 L1674.3 1109.9" stroke-width="2.67"/>
<path d="M1270.9 807 L1303 788.4" stroke-width="2.67"/>
<path d="M1255.7 816.2 L1259.1 814.8" stroke-width="3.81"/>
<path d="M1221.8 835.8 L1242.1 823.9" stroke-width="2.67"/>
<path d="M1218.4 847.6 L1220.1 835.8" stroke-width="2.67"/>
<path d="M1171.1 818.9 C1172.4 818.4 1180.9 814.1 1184.6 813.8 C1188.3 813.5 1199.2 819.4 1208.3 815.5 C1217.4 811.6 1269.2 779.0 1276 774.9" stroke-width="2.67"/>
<path d="M1162.6 837.5 C1163.2 840.3 1162.9 849.6 1166 854.4 C1169.1 859.2 1175.9 863.7 1181.2 866.2 C1186.5 868.7 1193.6 869.9 1198.1 869.6 C1202.6 869.3 1206.6 865.4 1208.3 864.6" stroke-width="2.67"/>
<path d="M1191.4 849.3 L1194.8 856.1" stroke-width="2.54"/>
<path d="M1201.5 839.2 L1206.6 839.8" stroke-width="3.81"/>
<path d="M1414.7 930.5 L1472.3 889.9" stroke-width="2.67"/>
<path d="M1438.4 918.7 L1735.5 1079.8" stroke-width="2.67"/>
<path d="M1190.7 900.1 L1231.3 937.3 L1211.7 937.3 L1211.7 976.9 L1172.8 976.9 L1172.8 937.3 L1154.1 937.3 Z" fill="#000" stroke="none" stroke-width="0"/>
<!-- 06_blockC.py -->
<path d="M137.1 825 L230.1 1014.8" stroke-width="2.79"/>
<path d="M272.4 730.9 L293.7 927.2" stroke-width="2.79"/>
<path d="M221.7 956.6 L230.1 951.5" stroke-width="2.67"/>
<path d="M238.6 942 L264 926.1" stroke-width="2.67"/>
<path d="M314.7 889.9 L370.6 850" stroke-width="2.67"/>
<path d="M104.9 1042.9 L182.7 984.3" stroke-width="2.67"/>
<path d="M194.6 1085.2 L214.9 1073.4" stroke-width="2.67"/>
<path d="M275.8 1029.4 L289.3 1020.9" stroke-width="2.67"/>
<path d="M367.2 1168.1 L401 1151.2" stroke-width="2.67"/>
<path d="M428.4 850 C414.0 860.1 300.2 939.8 284.3 951.5 C268.4 963.2 271.4 962.7 269 966.8 C266.6 970.9 262.6 984.8 260.6 992.1 C258.6 999.4 250.4 1030.0 248.7 1039.5 C247.0 1049.0 244.2 1082.2 243.7 1086.9"/>
<path d="M457.9 850 C441.9 861.5 315.2 952.1 297.8 965.1 C280.4 978.1 286.7 975.9 284.3 980.3 C281.9 984.7 276.0 1003.2 274.1 1009.1 C272.2 1015.0 266.7 1031.7 265.7 1039.5 C264.7 1047.3 264.2 1082.2 264 1086.9"/>
<path d="M473.1 850 L291 980.3"/>
<path d="M499.5 850 L280.9 1002.3"/>
<path d="M248.7 1010.7 C247.1 1012.7 239.8 1019.5 236.9 1026 C234.0 1032.5 228.7 1050.8 226.7 1059.8 C224.7 1068.8 222.4 1089.2 221.7 1093.7"/>
<path d="M250.4 1017.5 C249.3 1022.2 243.6 1043.7 242 1053 C240.4 1062.3 239.1 1082.4 238.6 1086.9"/>
<path d="M218.5 1093.8 L224.1 1097.2 L237.7 1098.4 L238.8 1088.2 L246.7 1088.2 L264.8 1085.9 L267 1093.8 L279.4 1105.1 L281.7 1114.1 L276 1113.6 L233.2 1133.9 L224.1 1129.9 L218.5 1120.9 Z" fill="#000" stroke="none" stroke-width="0"/>
<path d="M242.8 1062.3 L249 1060 L248.4 1076.9 L245.8 1088.2 L239 1088.2 L239 1074.7 Z" fill="#000" stroke="none" stroke-width="0"/>
<ellipse cx="224.1" cy="1107.9" rx="3.2" ry="2.9" stroke-width="0" fill="#fff"/>
<ellipse cx="233.4" cy="1109.6" rx="3.4" ry="3.4" stroke-width="0" fill="#fff"/>
<ellipse cx="233.4" cy="1122.6" rx="3.4" ry="2.9" stroke-width="0" fill="#fff"/>
<ellipse cx="251" cy="1119.2" rx="5.1" ry="3.2" stroke-width="0" fill="#fff"/>
<ellipse cx="252.3" cy="1097.8" rx="7" ry="3.6" stroke-width="0" fill="#fff"/>
<ellipse cx="243.3" cy="1079.2" rx="1.6" ry="1.4" stroke-width="0" fill="#fff"/>
<path d="M231.5 1137.8 L276 1114.1 L278.3 1164.9 L234.3 1188.6 Z" fill="#fff" stroke="#000" stroke-width="3.05"/>
<path d="M280 1113 L289.6 1124.9 L292.1 1136.7 L288.4 1144 L278.5 1150.8 Z" fill="#000" stroke="none" stroke-width="0"/>
<ellipse cx="282.8" cy="1131.3" rx="2.5" ry="1.6" stroke-width="0" fill="#fff"/>
<ellipse cx="283.4" cy="1139.2" rx="4.1" ry="2" transform="rotate(-30 283.4 1139.2)" stroke-width="0" fill="#fff"/>
<path d="M207.2 1128.8 L218.5 1128.2 L228.7 1133.3 L231.5 1137.8 L234.3 1188.6 L242.8 1188.6 L242.2 1201 L237.7 1204.4 L217.4 1203.3 L214 1193.1 L217.4 1179.6 L214 1170.5 L208.4 1170.5 Z" fill="#000" stroke="none" stroke-width="0"/>
<ellipse cx="215.1" cy="1142.9" rx="3.2" ry="2" stroke-width="0" fill="#fff"/>
<ellipse cx="225.8" cy="1184.1" rx="3.4" ry="3.4" stroke-width="0" fill="#fff"/>
<path d="M219.6 1135.6 L227 1138.4 L229.2 1164.9 L223 1161.5 L219.6 1155.9 L224.1 1148 Z" fill="#fff" stroke="none"/>
<path d="M196.5 1139.5 C196.2 1141.3 194.3 1147.3 194.8 1150.2 C195.3 1153.1 197.4 1155.7 199.3 1157 C201.2 1158.3 205.0 1157.9 206.1 1158.1" stroke-width="4.06"/>
<ellipse cx="203.8" cy="1168.9" rx="4.3" ry="7.7" transform="rotate(12 203.8 1168.9)" stroke-width="4.06"/>
<path d="M217.9 1203.3 L238.8 1204.4 L237.7 1240.5 L238.8 1280 L221.3 1280 L218.5 1240.5 Z" fill="#000" stroke="none" stroke-width="0"/>
<path d="M223.6 1207.8 L228.7 1205 L235.4 1207.8 L235.2 1226.9 L230.9 1229.8 L223.6 1226.9 Z" fill="#fff" stroke="none"/>
<path d="M223 1238.8 L228.1 1236 L233.2 1238.8 L228.1 1241.8 Z" fill="#fff" stroke="none"/>
<path d="M224.7 1249.5 L230.9 1246.1 L233.2 1251.8 L228.7 1256.3 L232.6 1263 L228.7 1267.6 L223.6 1263 L226.4 1256.3 Z" fill="#fff" stroke="none"/>
<path d="M224.1 1274.3 L233.2 1269.8 L233.7 1280 L223 1280 Z" fill="#fff" stroke="none"/>
<path d="M251.2 1182.4 L276 1181.8 L274.3 1217.9 L273.8 1251.8 L281.7 1280 L261.4 1280 L255.7 1240.5 L254.4 1188.6 Z" fill="#000" stroke="none" stroke-width="0"/>
<path d="M259.7 1189.7 L269.3 1188.6 L270.2 1219.1 L260.2 1220 Z" fill="#fff" stroke="none"/>
<path d="M259.3 1226.9 L269.8 1226 L270.2 1234.6 L259.7 1235.1 Z" fill="#fff" stroke="none"/>
<path d="M261.4 1241.6 L265.9 1239.4 L270.2 1243.3 L265.9 1248.2 L261.6 1246.1 Z" fill="#fff" stroke="none"/>
<path d="M261.9 1256.3 L270.4 1251.2 L272.1 1259.7 L264.8 1263 Z" fill="#fff" stroke="none"/>
<path d="M263.6 1269.8 L273.8 1263 L277.2 1280 L264.8 1280 Z" fill="#fff" stroke="none"/>
<path d="M100.8 1151.2 L142.1 1151.2 L142.1 1133.6 L178.7 1170.8 L140.4 1208 L140.4 1189.4 L100.8 1189.4 Z" fill="#000" stroke="none" stroke-width="0"/>
<path d="M37.2 1042.9 C38.3 1041.1 42.5 1031.7 45.7 1029.4 C48.9 1027.1 58.9 1026.5 60.9 1026" stroke-width="2.67"/>
<path d="M60.9 1026 L196.3 1090.3" stroke-width="2.67"/>
<path d="M196.3 1090.3 C197.6 1092.1 204.6 1098.4 206.4 1103.8 C208.2 1109.2 209.3 1127.3 209.8 1130.9" stroke-width="2.67"/>
<path d="M47.4 1039.5 L128.6 1081.8" stroke-width="2.67"/>
<path d="M33.8 1053 L33.8 1097" stroke-width="2.03" stroke-dasharray="30 14 4 14"/>
<path d="M35.5 1235.8 L37.9 1350.2" stroke-width="2.54" stroke-dasharray="70 20 6 20"/>
<path d="M600 910.9 C584.0 922.4 458.8 1011.8 439.9 1026 C421.0 1040.2 415.6 1046.9 411.2 1053 C406.8 1059.1 397.4 1083.5 395.9 1086.9" stroke-width="2.67"/>
<path d="M395.9 1086.9 L287.6 1289.9" stroke-width="2.67"/>
<path d="M340.1 1210.4 L340.1 1245.9 L363.8 1239.2" stroke-width="2.67"/>
<path d="M329.9 1215.5 L329.9 1273 L287.6 1293.3" stroke-width="2.67"/>
<path d="M395.9 1092 L453.5 1049.7" stroke-width="2.67"/>
<!-- 07_pipes1617.py -->
<path d="M754.4 1028.5 L822.1 1152.4" stroke-width="2.79"/>
<path d="M680.6 1094.8 L681.6 1249.5" stroke-width="2.79"/>
<path d="M505.7 1029.5 L515.8 1026.1 L537.8 1031.2 L539.5 1054.9 L529.4 1075.2 L519.2 1078.6" stroke-width="4.45"/>
<path d="M505.7 1029.5 L495.5 1044.8 L519.2 1048.1 L537.8 1031.2" stroke-width="4.45"/>
<path d="M519.2 1048.1 L519.2 1078.6" stroke-width="3.81"/>
<path d="M448.1 1065.1 L458.3 1051.5 L482 1054.9 L485.4 1065.1 L465.1 1082 L448.1 1065.1" stroke-width="4.45"/>
<path d="M495.5 1046.4 L519.2 1048.8 L519.2 1078.6 L509.1 1082 L498.9 1092.1 L485.4 1095.5 L482 1078.6 L485.4 1065.1 L493.8 1061.7 Z" fill="#000" stroke="none" stroke-width="0"/>
<ellipse cx="509.1" cy="1060" rx="3.4" ry="3" stroke-width="0" fill="#fff"/>
<ellipse cx="515.8" cy="1066.8" rx="3" ry="2.7" stroke-width="0" fill="#fff"/>
<ellipse cx="502.3" cy="1068.4" rx="3" ry="2.7" stroke-width="0" fill="#fff"/>
<ellipse cx="509.1" cy="1075.9" rx="3" ry="2.7" stroke-width="0" fill="#fff"/>
<ellipse cx="493.8" cy="1083.7" rx="7.4" ry="7.4" stroke-width="0" fill="#fff"/>
<ellipse cx="484.7" cy="1069.1" rx="2.4" ry="2.4" stroke-width="0" fill="#fff"/>
<path d="M448.1 1066.8 L465.1 1082.7 L478.6 1078.6 L482 1092.1 L475.2 1109.1 L468.4 1126 L451.5 1119.2 L434.6 1109.1 L433.9 1095.5 L444.8 1078.6 Z" fill="#000" stroke="none" stroke-width="0"/>
<ellipse cx="454.9" cy="1090.4" rx="5.4" ry="4.1" stroke-width="0" fill="#fff"/>
<ellipse cx="441.4" cy="1104" rx="6.1" ry="4.7" stroke-width="0" fill="#fff"/>
<ellipse cx="473.5" cy="1119.2" rx="2.7" ry="4.7" stroke-width="0" fill="#fff"/>
<path d="M532.7 1092.1 C532.9 1093.0 533.0 1097.8 534.4 1098.9 C535.8 1100.0 535.9 1103.1 542.9 1100.6 C549.9 1098.1 581.0 1083.0 586.9 1080.3"/>
<path d="M586.9 1080.3 L750 995"/>
<path d="M517.5 1100.6 C517.7 1102.2 517.6 1110.1 519.2 1112.4 C520.8 1114.7 526.7 1117.0 529.4 1117.5 C532.1 1118.0 529.1 1120.3 539.5 1115.8 C549.9 1111.3 598.2 1088.0 607.2 1083.7"/>
<path d="M607.2 1083.7 L750 1019.7"/>
<path d="M620.7 1066.8 L750 1009.9"/>
<path d="M478.6 1132.7 C479.1 1134.1 480.2 1140.9 482 1142.9 C483.8 1144.9 488.9 1147.8 492.1 1148 C495.3 1148.2 493.1 1149.8 505.7 1144.6 C518.3 1139.4 576.1 1113.8 586.9 1109.1"/>
<path d="M586.9 1109.1 L751 1037.3"/>
<path d="M466.8 1153 C467.5 1154.4 469.3 1161.2 471.8 1163.2 C474.3 1165.2 481.8 1168.1 485.4 1168.3 C489.0 1168.5 485.4 1170.8 498.9 1164.9 C512.4 1159.0 575.2 1129.7 586.9 1124.3"/>
<path d="M586.9 1124.3 L747.6 1049.8"/>
<path d="M449.8 1196.4 L749.3 1054.9"/>
<path d="M585.2 1073.5 C586.1 1071.8 586.6 1065.8 590.3 1063.4 C594.0 1061.0 603.0 1059.3 607.2 1059 C611.4 1058.7 614.3 1061.2 615.7 1061.7" stroke-width="3.81"/>
<ellipse cx="600.4" cy="1066.8" rx="7.4" ry="2.7" transform="rotate(-25 600.4 1066.8)" stroke-width="2.54"/>
<ellipse cx="612.3" cy="1087.1" rx="8.1" ry="3" transform="rotate(-25 612.3 1087.1)" stroke-width="3.81"/>
<ellipse cx="594.3" cy="1094.8" rx="4.1" ry="3" transform="rotate(-25 594.3 1094.8)" stroke-width="3.81"/>
<ellipse cx="608.9" cy="1114.1" rx="7.4" ry="3" transform="rotate(-25 608.9 1114.1)" stroke-width="3.81"/>
<path d="M434.6 1112.4 C430.1 1120.1 408.0 1153.3 400.8 1170 C393.6 1186.7 384.6 1221.8 380.5 1237.6 C376.4 1253.4 373.9 1273.5 370.3 1288.4 C366.7 1303.3 355.7 1341.2 353.4 1349.3"/>
<path d="M451.5 1119.2 C447.0 1126.0 424.9 1154.2 417.7 1170 C410.5 1185.8 401.5 1221.8 397.4 1237.6 C393.3 1253.4 391.3 1274.0 387.2 1288.4 C383.1 1302.8 369.6 1338.2 366.9 1345.9"/>
<path d="M465.1 1119.2 C461.0 1124.6 441.4 1146.3 434.6 1159.8 C427.8 1173.3 417.9 1205.8 414.3 1220.7 C410.7 1235.6 410.2 1258.9 407.5 1271.5 C404.8 1284.1 399.0 1305.1 394 1315.5 C389.0 1325.9 376.2 1344.1 370.3 1349.3 C364.4 1354.5 352.7 1353.7 350 1354.4"/>
<path d="M468.4 1146.3 C465.7 1151.7 453.1 1174.7 448.1 1186.9 C443.1 1199.1 434.3 1224.1 431.2 1237.6 C428.1 1251.1 427.7 1275.8 424.5 1288.4 C421.3 1301.0 413.8 1322.0 407.5 1332.4 C401.2 1342.8 384.8 1360.8 377.1 1366.2 C369.4 1371.6 353.6 1372.1 350 1373"/>
<path d="M422.8 1153 L426.1 1148" stroke-width="5.08"/>
<path d="M429.5 1137.8 L432.9 1132.7" stroke-width="5.08"/>
<path d="M436.3 1126 L438.7 1121.9" stroke-width="5.08"/>
<path d="M400.8 1359.5 L431.2 1403.5 L366.9 1440.7 L361.8 1437.3 L333.1 1395"/>
<path d="M400.8 1425.5 L456.9 1515.1" stroke-width="2.79"/>
<path d="M366.9 1168.3 L400.8 1151.4"/>
<path d="M350 1247.8 L363.5 1239.3"/>
<path d="M400.8 1220.7 L410.9 1217.3"/>
<!-- 08_swivelB.py -->
<path d="M750 672 L777.1 650" stroke-width="2.67"/>
<path d="M750 995.2 L1085 822.6"/>
<path d="M1085 822.6 C1085.6 821.9 1088.6 819.3 1089.4 817.5 C1090.2 815.7 1090.8 813.4 1091.1 809.1 C1091.4 804.8 1091.7 788.6 1091.8 785.4"/>
<path d="M750 1010.4 L1095.2 829.4"/>
<path d="M1095.2 829.4 C1096.2 828.5 1101.3 824.9 1102.6 822.6 C1103.9 820.3 1104.3 817.6 1104.7 812.4 C1105.1 807.2 1105.2 787.5 1105.3 783.7"/>
<path d="M750 1018.9 L1088.4 842.9"/>
<path d="M772 1025 L1098.6 856.4"/>
<path d="M1098.6 856.4 C1099.7 855.3 1103.8 852.2 1105.3 849.7 C1106.8 847.2 1108.0 844.0 1107.4 841.2 C1106.8 838.4 1102.8 834.1 1101.9 832.7"/>
<path d="M775.4 1035.8 L1107 868.3"/>
<path d="M1113.8 809.1 C1114.6 808.6 1118.8 806.8 1119.9 805 C1121.0 803.2 1122.0 798.1 1122.3 795.5 C1122.6 792.9 1122.3 786.7 1122.3 785.4"/>
<path d="M992 868.3 C992.4 866.9 992.3 862.1 994.3 859.8 C996.3 857.5 1001.1 855.2 1003.8 854.7 C1006.5 854.2 1009.5 856.7 1010.6 857.1" stroke-width="3.81"/>
<ellipse cx="1003.1" cy="862.5" rx="5.4" ry="2.4" transform="rotate(-25 1003.1 862.5)" stroke-width="2.54"/>
<path d="M993.7 886.9 L1020.7 871.7 L1085 842.9 L1086.7 848 L1020.7 878.4 L1000.4 898.7 Z" fill="#000" stroke="none" stroke-width="0"/>
<ellipse cx="1010.6" cy="883.5" rx="4.7" ry="2" transform="rotate(-27 1010.6 883.5)" stroke-width="0" fill="#fff"/>
<ellipse cx="1052.9" cy="863.9" rx="4.7" ry="2" transform="rotate(-27 1052.9 863.9)" stroke-width="0" fill="#fff"/>
<ellipse cx="1064.7" cy="858.1" rx="4.1" ry="1.7" transform="rotate(-27 1064.7 858.1)" stroke-width="0" fill="#fff"/>
<ellipse cx="1076.6" cy="852.4" rx="4.1" ry="1.7" transform="rotate(-27 1076.6 852.4)" stroke-width="0" fill="#fff"/>
<ellipse cx="1009.9" cy="911.3" rx="8.8" ry="3.7" transform="rotate(-25 1009.9 911.3)" stroke-width="3.81"/>
<ellipse cx="1096.9" cy="683.8" rx="23" ry="10.2" stroke-width="2.79"/>
<path d="M1074.2 685.5 L1074.9 727.8 L1068.1 765.1 L1073.2 780.3" stroke-width="2.79"/>
<path d="M1119.9 685.5 L1118.9 738 L1129 746.4" stroke-width="2.79"/>
<path d="M1083.3 716 L1090.1 710.9 L1105.3 710.9 L1113.8 717.7 L1113.8 738 L1108.7 765.1 L1088.4 766.8 L1083.3 738 Z" fill="#000" stroke="none" stroke-width="0"/>
<ellipse cx="1097.9" cy="721.1" rx="6.1" ry="4.1" stroke-width="0" fill="#fff"/>
<ellipse cx="1097.9" cy="731.2" rx="6.1" ry="4.1" stroke-width="0" fill="#fff"/>
<path d="M1091.8 738.7 L1104.7 738.7 L1104.7 766.8 L1091.8 766.8 Z" fill="#fff" stroke="none" stroke-width="0"/>
<path d="M1074.9 697.4 L1079.9 694 L1076.6 690.6" stroke-width="3.17"/>
<path d="M1118.9 697.4 L1113.8 694 L1118.2 690.6" stroke-width="3.17"/>
<path d="M1076.6 761.7 L1083.3 758.3" stroke-width="3.81"/>
<path d="M1120.6 744.8 L1125.6 738" stroke-width="3.81"/>
<path d="M1012.3 958.6 L1149.3 1035.8" stroke-width="2.79"/>
<path d="M1254.2 1096 L1500.6 1231.7" stroke-width="2.79"/>
<path d="M755.1 1029 L821.1 1150.2" stroke-width="2.67"/>
<!-- 09_plate.py -->
<path d="M221.7 1265.1 C222.5 1271.3 223.0 1288.8 226.7 1302.3 C230.4 1315.8 236.4 1333.9 243.7 1346.3 C251.0 1358.7 261.7 1369.4 270.7 1376.7 C279.7 1384.0 289.3 1387.9 297.8 1390.3 C306.3 1392.7 314.2 1392.0 321.5 1390.9 C328.8 1389.8 338.4 1384.7 341.8 1383.5"/>
<path d="M236.9 1271.8 C238.0 1277.5 239.8 1294.4 243.7 1305.7 C247.6 1317.0 253.3 1329.3 260.6 1339.5 C267.9 1349.7 279.2 1360.9 287.6 1366.6 C296.1 1372.2 303.4 1372.8 311.3 1373.4 C319.2 1374.0 331.1 1370.6 335 1370"/>
<path d="M260.6 1268.4 C262.3 1274.1 265.6 1291.6 270.7 1302.3 C275.8 1313.0 283.1 1323.7 291 1332.7 C298.9 1341.7 309.6 1350.8 318.1 1356.4 C326.6 1362.1 332.8 1365.5 341.8 1366.6 C350.8 1367.7 362.7 1367.2 372.3 1363.2 C381.9 1359.2 391.4 1351.9 399.3 1342.9 C407.2 1333.9 414.5 1322.6 419.6 1309.1 C424.7 1295.6 428.1 1269.6 429.8 1261.7"/>
<path d="M274.1 1261.7 C276.4 1267.9 282.5 1288.2 287.6 1298.9 C292.7 1309.6 298.4 1318.1 304.6 1326 C310.8 1333.9 318.1 1341.8 324.9 1346.3 C331.7 1350.8 338.4 1352.4 345.2 1353 C352.0 1353.6 358.2 1353.6 365.5 1349.7 C372.8 1345.8 382.4 1337.9 389.2 1329.4 C396.0 1320.9 401.9 1309.6 406.1 1298.9 C410.3 1288.2 413.2 1270.7 414.6 1265.1"/>
<path d="M36.5 1312.4 C36.6 1317.9 36.3 1351.9 37.2 1359.8 C38.1 1367.7 41.2 1376.1 44 1380.1 C46.8 1384.1 57.0 1386.6 60.9 1393.7 C64.8 1400.8 74.4 1434.3 77.8 1441 C81.2 1447.7 88.3 1450.0 89.7 1451.2" stroke-width="2.67"/>
<path d="M89.7 1447.8 C89.3 1451.2 85.9 1460.2 87.3 1468.1 C88.7 1476.0 92.9 1488.5 98.1 1495.2 C103.3 1501.9 112.2 1506.9 118.4 1508 C124.6 1509.1 132.6 1502.9 135.4 1501.9" stroke-width="2.67"/>
<path d="M89.7 1447.8 C91.7 1446.1 96.7 1439.6 101.5 1437.6 C106.3 1435.6 113.9 1435.2 118.4 1436 C122.9 1436.8 126.9 1441.6 128.6 1442.7" stroke-width="2.67"/>
<path d="M98.1 1464.7 C99.8 1462.7 104.6 1454.0 108.3 1452.9 C112.0 1451.8 116.8 1453.8 120.1 1458 C123.4 1462.2 127.6 1472.7 127.9 1478.3 C128.2 1483.9 124.8 1490.1 121.8 1491.8 C118.8 1493.5 112.0 1489.0 110 1488.4" stroke-width="2.67"/>
<path d="M135.4 1501.9 L250.4 1437.6 L252.1 1376.7" stroke-width="2.67"/>
<path d="M192.9 1392 L198 1459.6" stroke-width="2.67"/>
<path d="M213.2 1376.1 L218.3 1449.5" stroke-width="2.67"/>
<path d="M162.4 1485 C164.7 1481.6 170.9 1468.1 176 1464.7 C181.1 1461.3 190.1 1464.7 192.9 1464.7" stroke-width="2.67"/>
<path d="M145.5 1478.3 L148.9 1491.8" stroke-width="2.67"/>
<!-- 10_detailA_left.py -->
<path d="M1833.7 557.4 C1831.3 557.4 1825.4 555.0 1821.8 557.4 C1818.2 559.8 1816.4 564.7 1815.7 569.6 C1815.0 574.5 1817.9 579.6 1818.4 582.1" stroke-width="4.32"/>
<path d="M1816.8 573.7 L1821.8 575.4" stroke-width="3.81"/>
<path d="M1892.9 619.4 L1894.6 627.2" stroke-width="3.17"/>
<path d="M1909.8 629.5 L1911.5 637.3" stroke-width="3.17"/>
<path d="M1923.4 637.3 L1925 645.4" stroke-width="3.17"/>
<path d="M1813.4 698.9 C1811.4 698.9 1806.4 696.2 1803.2 698.9 C1800.0 701.6 1798.4 707.3 1797.5 712.4 C1796.6 717.5 1798.5 721.9 1798.8 724.3" stroke-width="4.32"/>
<path d="M1798.1 715.8 L1803.2 717.5" stroke-width="3.81"/>
<path d="M1826.9 732.7 L1828.6 740.2" stroke-width="3.17"/>
<path d="M1845.5 742.9 L1847.2 750.3" stroke-width="3.17"/>
<path d="M1859.1 749.7 L1860.7 757.1" stroke-width="3.17"/>
<path d="M2101 605.8 L2133.2 695.5" stroke-width="2.79"/>
<path d="M2249.9 582.1 L2253.3 638.7" stroke-width="2.79"/>
<path d="M2268.5 763.2 L2271.9 832.6" stroke-width="2.79"/>
<path d="M2069.5 874.9 L2053 962.2" stroke-width="2.79"/>
<path d="M1832 602.5 L1720.3 739.5 L1806.6 789.6 L1831.3 762.5"/>
<path d="M1760.9 768.3 L1712.9 820.1" stroke-width="3.05"/>
<path d="M2163.6 792 L2217.8 760.5" stroke-width="3.05"/>
<path d="M1942.4 629.6 L1933.6 645.8" stroke-width="4.32"/>
<ellipse cx="2015.5" cy="684.9" rx="15.4" ry="21.3" transform="rotate(20 2015.5 684.9)" stroke-width="4.32"/>
<ellipse cx="2014.1" cy="684.9" rx="7.1" ry="9.1" transform="rotate(20 2014.1 684.9)" stroke-width="4.32"/>
<ellipse cx="2013.7" cy="684.9" rx="2.8" ry="3.6" transform="rotate(20 2013.7 684.9)" stroke-width="4.32"/>
<path d="M1976 642.4 L1986.9 641.1 L1998.7 647.4 L2022.4 659.2" stroke-width="4.32"/>
<path d="M1959.2 665.1 L1962.2 682.9 L2002.6 705.6 L2010.5 705.6" stroke-width="4.32"/>
<path d="M1976 642.4 C1974.8 644.4 1970.8 649.8 1969.1 654.3 C1967.3 658.8 1966.5 664.3 1965.5 669.1 C1964.5 673.9 1963.2 680.6 1962.8 682.9" stroke-width="4.32"/>
<path d="M1986.9 641.1 C1985.6 643.1 1981.0 648.6 1979 653.3 C1977.0 658.0 1975.5 663.5 1975 669.1 C1974.5 674.7 1975.8 683.9 1976 686.9" stroke-width="4.32"/>
<path d="M1998.7 647.4 C1997.2 649.4 1992.0 654.3 1989.8 659.2 C1987.6 664.1 1985.8 671.1 1985.3 677 C1984.8 682.9 1986.6 691.8 1986.9 694.7" stroke-width="4.32"/>
<path d="M2007.6 653.3 C2005.8 655.6 1999.2 662.2 1996.7 667.1 C1994.2 672.0 1992.8 677.3 1992.8 682.9 C1992.8 688.5 1996.0 697.7 1996.7 700.7" stroke-width="4.32"/>
<path d="M1965.1 669.1 L1975 673" stroke-width="4.32"/>
<path d="M1969.1 654.3 L1979 653.3" stroke-width="4.32"/>
<path d="M1985.3 679 L1992.8 682.9" stroke-width="4.32"/>
<ellipse cx="1969.1" cy="679" rx="3.6" ry="1.8" transform="rotate(25 1969.1 679)"/>
<ellipse cx="1990.8" cy="691.2" rx="3.6" ry="1.8" transform="rotate(25 1990.8 691.2)"/>
<ellipse cx="2010.5" cy="660.2" rx="2.8" ry="1.4" transform="rotate(25 2010.5 660.2)"/>
<path d="M1876.3 736.2 L1867.4 752.4" stroke-width="4.32"/>
<ellipse cx="1949.3" cy="791.5" rx="15.4" ry="21.3" transform="rotate(20 1949.3 791.5)" stroke-width="4.32"/>
<ellipse cx="1948" cy="791.5" rx="7.1" ry="9.1" transform="rotate(20 1948 791.5)" stroke-width="4.32"/>
<ellipse cx="1947.6" cy="791.5" rx="2.8" ry="3.6" transform="rotate(20 1947.6 791.5)" stroke-width="4.32"/>
<path d="M1909.9 749 L1920.7 747.7 L1932.6 754 L1956.3 765.8" stroke-width="4.32"/>
<path d="M1893.1 771.7 L1896.1 789.5 L1936.5 812.2 L1944.4 812.2" stroke-width="4.32"/>
<path d="M1909.9 749 C1908.8 751.0 1904.8 756.4 1903 760.9 C1901.2 765.4 1900.5 770.9 1899.4 775.7 C1898.3 780.5 1897.1 787.2 1896.6 789.5" stroke-width="4.32"/>
<path d="M1920.7 747.7 C1919.4 749.7 1914.8 755.2 1912.8 759.9 C1910.8 764.6 1909.4 770.1 1908.9 775.7 C1908.4 781.3 1909.7 790.5 1909.9 793.4" stroke-width="4.32"/>
<path d="M1932.6 754 C1931.1 756.0 1926.0 760.9 1923.7 765.8 C1921.5 770.7 1919.6 777.7 1919.1 783.6 C1918.6 789.5 1920.4 798.3 1920.7 801.3" stroke-width="4.32"/>
<path d="M1941.5 759.9 C1939.7 762.2 1933.1 768.8 1930.6 773.7 C1928.1 778.6 1926.6 783.9 1926.6 789.5 C1926.6 795.1 1929.9 804.3 1930.6 807.3" stroke-width="4.32"/>
<path d="M1899 775.7 L1908.9 779.6" stroke-width="4.32"/>
<path d="M1903 760.9 L1912.8 759.9" stroke-width="4.32"/>
<path d="M1919.1 785.6 L1926.6 789.5" stroke-width="4.32"/>
<ellipse cx="1903" cy="785.6" rx="3.6" ry="1.8" transform="rotate(25 1903 785.6)"/>
<ellipse cx="1924.7" cy="797.8" rx="3.6" ry="1.8" transform="rotate(25 1924.7 797.8)"/>
<ellipse cx="1944.4" cy="766.8" rx="2.8" ry="1.4" transform="rotate(25 1944.4 766.8)"/>
<path d="M2047.1 693.8 C2045.8 694.9 2040.8 697.6 2039.2 700.7 C2037.6 703.8 2036.7 709.7 2037.2 712.5 C2037.7 715.3 2041.3 716.6 2042.1 717.4" stroke-width="4.32"/>
<path d="M2047.1 693.8 L2095.4 707.6 L2117.1 723.4 L2125 726.3" stroke-width="4.32"/>
<path d="M2042.1 717.4 L2057.9 726.3 L2061.9 738.2 L2077.7 748 L2107.3 752" stroke-width="4.32"/>
<path d="M2055.9 696.7 C2055.1 698.4 2051.5 702.7 2051 706.6 C2050.5 710.5 2052.7 718.1 2053 720.4" stroke-width="4.32"/>
<path d="M2070.7 702.6 C2069.7 704.9 2066.2 711.7 2064.8 716.5 C2063.4 721.3 2062.7 728.8 2062.3 731.3" stroke-width="4.32"/>
<path d="M2095.4 707.6 L2088.5 722.4 L2080.6 746.1" stroke-width="4.32"/>
<path d="M2088.5 722.4 L2112.2 730.3" stroke-width="4.32"/>
<path d="M2112.2 730.3 L2106.3 751" stroke-width="4.32"/>
<ellipse cx="2092.5" cy="714.5" rx="2.8" ry="1.6" transform="rotate(20 2092.5 714.5)"/>
<path d="M2112.2 730.3 C2115.5 730.6 2132.8 731.3 2136.9 732.6 C2141.0 733.9 2142.9 737.6 2143.2 740.2 C2143.5 742.8 2143.7 751.3 2139.2 752.4 C2134.7 753.5 2113.2 748.9 2109.2 748.4" stroke-width="4.32"/>
<path d="M2125 726.3 L2126 719.4 L2139.8 710.5 L2162.5 720.8 L2168.1 730.7 L2168.5 761.9 L2146.7 774.1 L2124 760.3 L2116.1 755.9" stroke-width="4.32"/>
<path d="M2127 726.3 L2139.8 716.5 L2158.6 726.7 L2144.8 767.8" stroke-width="4.32"/>
<path d="M2158.6 726.7 L2168.1 730.7" stroke-width="4.32"/>
<path d="M2162.5 718.4 L2175.4 712.9" stroke-width="4.32"/>
<path d="M2169.4 739.2 L2193.1 730.7" stroke-width="4.32"/>
<path d="M2172.4 702.6 L2180.3 692.8 L2196.1 688.8 L2209.9 692.8 L2217.8 708.6 L2218.2 726.3 L2204 734.6 L2194.5 734.6" stroke-width="4.32"/>
<path d="M2172.4 702.6 C2174.7 703.9 2182.6 707.2 2186.2 710.5 C2189.8 713.8 2192.7 718.4 2194.1 722.4 C2195.5 726.4 2194.4 732.6 2194.5 734.6" stroke-width="4.32"/>
<path d="M2180.3 695.7 C2182.9 697.5 2192.5 702.5 2196.1 706.6 C2199.7 710.7 2201.0 716.0 2202 720.4 C2203.0 724.8 2202.0 731.1 2202 733.2" stroke-width="4.32"/>
<path d="M2196.1 706.6 L2209.9 692.8" stroke-width="4.32"/>
<path d="M2202 720.4 L2217.8 716.5" stroke-width="4.32"/>
<ellipse cx="2194.1" cy="694.7" rx="3.2" ry="1.6" transform="rotate(-10 2194.1 694.7)"/>
<ellipse cx="2209.9" cy="724.4" rx="3.2" ry="1.6" transform="rotate(-30 2209.9 724.4)"/>
<path d="M1986.9 790.5 C1985.6 791.6 1980.7 794.3 1979 797.4 C1977.3 800.5 1976.5 806.4 1977 809.2 C1977.5 812.0 1981.1 813.4 1981.9 814.2" stroke-width="4.32"/>
<path d="M1986.9 790.5 L2035.2 804.3 L2056.9 820.1 L2064.8 823.1" stroke-width="4.32"/>
<path d="M1981.9 814.2 L1997.7 823.1 L2001.7 834.9 L2017.4 844.8 L2047.1 848.7" stroke-width="4.32"/>
<path d="M1995.7 793.4 C1994.9 795.0 1991.3 799.3 1990.8 803.3 C1990.3 807.2 1992.5 814.8 1992.8 817.1" stroke-width="4.32"/>
<path d="M2010.5 799.4 C2009.5 801.7 2006.0 808.4 2004.6 813.2 C2003.2 818.0 2002.5 825.5 2002.1 828" stroke-width="4.32"/>
<path d="M2035.2 804.3 L2028.3 819.1 L2020.4 842.8" stroke-width="4.32"/>
<path d="M2028.3 819.1 L2052 827" stroke-width="4.32"/>
<path d="M2052 827 L2046.1 847.7" stroke-width="4.32"/>
<ellipse cx="2032.3" cy="811.2" rx="2.8" ry="1.6" transform="rotate(20 2032.3 811.2)"/>
<path d="M2052 827 C2055.3 827.3 2072.6 828.1 2076.7 829.4 C2080.8 830.7 2082.7 834.3 2083 836.9 C2083.3 839.5 2083.5 848.0 2079 849.1 C2074.5 850.2 2053.0 845.7 2049 845.2" stroke-width="4.32"/>
<path d="M2064.8 823.1 L2065.8 816.1 L2079.6 807.3 L2102.3 817.5 L2107.9 827.4 L2108.3 858.6 L2086.5 870.8 L2063.8 857 L2055.9 852.7" stroke-width="4.32"/>
<path d="M2066.8 823.1 L2079.6 813.2 L2098.4 823.5 L2084.6 864.5" stroke-width="4.32"/>
<path d="M2098.4 823.5 L2107.9 827.4" stroke-width="4.32"/>
<path d="M2102.3 815.2 L2115.2 809.6" stroke-width="4.32"/>
<path d="M2109.2 835.9 L2132.9 827.4" stroke-width="4.32"/>
<path d="M2112.2 799.4 L2120.1 789.5 L2135.9 785.6 L2149.7 789.5 L2157.6 805.3 L2158 823.1 L2143.8 831.3 L2134.3 831.3" stroke-width="4.32"/>
<path d="M2112.2 799.4 C2114.5 800.7 2122.4 804.0 2126 807.3 C2129.6 810.6 2132.5 815.1 2133.9 819.1 C2135.3 823.1 2134.2 829.3 2134.3 831.3" stroke-width="4.32"/>
<path d="M2120.1 792.5 C2122.7 794.3 2132.3 799.2 2135.9 803.3 C2139.5 807.4 2140.8 812.6 2141.8 817.1 C2142.8 821.6 2141.8 827.9 2141.8 830" stroke-width="4.32"/>
<path d="M2135.9 803.3 L2149.7 789.5" stroke-width="4.32"/>
<path d="M2141.8 817.1 L2157.6 813.2" stroke-width="4.32"/>
<ellipse cx="2133.9" cy="791.5" rx="3.2" ry="1.6" transform="rotate(-10 2133.9 791.5)"/>
<ellipse cx="2149.7" cy="821.1" rx="3.2" ry="1.6" transform="rotate(-30 2149.7 821.1)"/>
<path d="M1833.7 557.4 L1976 642.4" stroke-width="4.32"/>
<path d="M1818.4 582 L1959.2 665" stroke-width="4.32"/>
<path d="M1813.4 698.9 L1909.9 749" stroke-width="4.32"/>
<path d="M1798.8 724.3 L1893.1 771.6" stroke-width="4.32"/>
<!-- 11_valve.py -->
<ellipse cx="2333.8" cy="633.4" rx="10.2" ry="13.5" transform="rotate(20 2333.8 633.4)" stroke-width="6.35"/>
<ellipse cx="2328.2" cy="692.6" rx="10.2" ry="14.7" transform="rotate(-22 2328.2 692.6)" stroke-width="4.45"/>
<path d="M2339.5 708.2 L2370.5 769.9"/>
<path d="M2353.6 623.5 L2424.1 589.7" stroke-width="4.06"/>
<path d="M2355 677.1 L2424.1 637.6" stroke-width="4.06"/>
<path d="M2239.4 671.5 C2238.0 672.4 2232.6 674.3 2230.9 677.1 C2229.2 679.9 2228.6 684.9 2229.5 688.4 C2230.4 691.9 2233.7 696.9 2236.5 698.3 C2239.3 699.7 2244.8 697.1 2246.4 696.9" stroke-width="4.06"/>
<path d="M2239.4 671.5 C2241.0 672.0 2247.1 671.9 2249.2 674.3 C2251.3 676.6 2252.5 681.8 2252 685.6 C2251.5 689.4 2247.3 695.0 2246.4 696.9" stroke-width="4.06"/>
<path d="M2250.6 665.8 C2252.2 666.5 2258.5 667.5 2260.5 670.1 C2262.5 672.7 2263.3 677.9 2262.8 681.4 C2262.3 684.9 2258.5 689.6 2257.7 691.2" stroke-width="4.06"/>
<path d="M2239.4 671.5 L2250.6 665.8" stroke-width="4.06"/>
<path d="M2237.9 698.6 L2259.1 691.8" stroke-width="4.06"/>
<path d="M2236.5 684.2 C2237.2 684.0 2239.9 682.3 2240.8 682.8 C2241.8 683.3 2242.0 686.3 2242.2 687" stroke-width="4.06"/>
<path d="M2246.4 660.2 L2260.5 648.9 L2274.6 646.1 L2283.1 653.2 L2287.3 668.7 L2283.1 685.6 L2269 692.6 L2260.5 691.2" stroke-width="4.06"/>
<path d="M2260.5 648.9 L2266.1 660.2 L2283.1 653.2" stroke-width="4.06"/>
<path d="M2266.1 660.2 L2270.4 677.1 L2269 692.6" stroke-width="4.06"/>
<path d="M2246.4 660.2 L2253.5 667.3" stroke-width="4.06"/>
<path d="M2283.1 653.2 C2284.0 652.0 2286.1 647.8 2288.7 646.1 C2291.3 644.5 2295.8 642.8 2298.6 643.3 C2301.4 643.8 2304.4 648.0 2305.6 648.9" stroke-width="4.06"/>
<path d="M2287.3 668.7 C2288.7 668.9 2293.2 670.6 2295.8 670.1 C2298.4 669.6 2300.5 667.7 2302.8 665.8 C2305.2 663.9 2309.0 661.4 2309.9 658.8 C2310.8 656.2 2309.1 651.9 2308.4 650.3 C2307.7 648.6 2306.1 649.1 2305.6 648.9" stroke-width="4.06"/>
<path d="M2288.7 648.9 C2289.6 650.1 2293.3 652.7 2294.3 656 C2295.3 659.3 2294.8 666.6 2294.9 668.7" stroke-width="4.06"/>
<path d="M2298.6 644.7 C2299.3 646.1 2302.2 649.8 2302.8 653.2 C2303.4 656.6 2302.3 663.3 2302.2 665.3" stroke-width="4.06"/>
<ellipse cx="2263.9" cy="655.1" rx="2.8" ry="1.7" transform="rotate(-20 2263.9 655.1)" stroke-width="3.17"/>
<ellipse cx="2279.7" cy="685.6" rx="2.8" ry="1.7" transform="rotate(-20 2279.7 685.6)" stroke-width="3.17"/>
<path d="M2236 729.3 C2234.6 730.2 2229.2 732.1 2227.5 734.9 C2225.8 737.7 2225.2 742.7 2226.1 746.2 C2227.0 749.7 2230.3 754.7 2233.1 756.1 C2235.9 757.5 2241.3 754.9 2243 754.7" stroke-width="4.06"/>
<path d="M2236 729.3 C2237.6 729.8 2243.7 729.8 2245.8 732.1 C2247.9 734.5 2249.2 739.6 2248.7 743.4 C2248.2 747.2 2243.9 752.8 2243 754.7" stroke-width="4.06"/>
<path d="M2247.2 723.7 C2248.8 724.4 2255.1 725.3 2257.1 727.9 C2259.1 730.5 2259.9 735.7 2259.4 739.2 C2258.9 742.7 2255.2 747.4 2254.3 749" stroke-width="4.06"/>
<path d="M2236 729.3 L2247.2 723.7" stroke-width="4.06"/>
<path d="M2234.6 756.4 L2255.7 749.6" stroke-width="4.06"/>
<path d="M2233.1 742 C2233.8 741.8 2236.4 740.1 2237.4 740.6 C2238.4 741.1 2238.6 744.1 2238.8 744.8" stroke-width="4.06"/>
<path d="M2243 718 L2257.1 706.7 L2271.2 703.9 L2279.7 711 L2283.9 726.5 L2279.7 743.4 L2265.6 750.5 L2257.1 749" stroke-width="4.06"/>
<path d="M2257.1 706.7 L2262.8 718 L2279.7 711" stroke-width="4.06"/>
<path d="M2262.8 718 L2267 734.9 L2265.6 750.5" stroke-width="4.06"/>
<path d="M2243 718 L2250.1 725.1" stroke-width="4.06"/>
<path d="M2279.7 711 C2280.6 709.8 2282.7 705.5 2285.3 703.9 C2287.9 702.2 2292.4 700.6 2295.2 701.1 C2298.0 701.6 2301.0 705.8 2302.2 706.7" stroke-width="4.06"/>
<path d="M2283.9 726.5 C2285.3 726.7 2289.8 728.4 2292.4 727.9 C2295.0 727.4 2297.1 725.6 2299.4 723.7 C2301.8 721.8 2305.6 719.2 2306.5 716.6 C2307.4 714.0 2305.8 709.9 2305.1 708.2 C2304.4 706.6 2302.7 707.0 2302.2 706.7" stroke-width="4.06"/>
<path d="M2285.3 706.7 C2286.2 707.9 2290.0 710.5 2291 713.8 C2292.0 717.1 2291.4 724.4 2291.5 726.5" stroke-width="4.06"/>
<path d="M2295.2 702.5 C2295.9 703.9 2298.8 707.6 2299.4 711 C2300.0 714.4 2299.0 721.1 2298.9 723.1" stroke-width="4.06"/>
<ellipse cx="2260.5" cy="712.9" rx="2.8" ry="1.7" transform="rotate(-20 2260.5 712.9)" stroke-width="3.17"/>
<ellipse cx="2276.3" cy="743.4" rx="2.8" ry="1.7" transform="rotate(-20 2276.3 743.4)" stroke-width="3.17"/>
<path d="M2218.2 760.3 L2198.5 769.9" stroke-width="3.05"/>
<path d="M2269.5 763.1 L2270.4 769.9" stroke-width="2.79"/>
<path d="M2250.6 581.8 L2252.6 639.1" stroke-width="2.79"/>
<path d="M2190 691.2 C2191.9 691.4 2197.5 691.0 2201.3 692.6 C2205.1 694.2 2210.0 697.6 2212.6 701.1 C2215.2 704.6 2216.3 709.3 2216.8 713.8 C2217.3 718.3 2218.0 724.1 2215.4 727.9 C2212.8 731.7 2205.5 734.5 2201.3 736.4 C2197.1 738.3 2191.9 738.7 2190 739.2" stroke-width="4.06"/>
<path d="M2195.6 695.5 L2204.1 713.8 L2201.3 736.4" stroke-width="4.06"/>
<path d="M2204.1 713.8 L2216.8 713.8" stroke-width="4.06"/>
<path d="M2370.5 498.1 C2369.8 501.6 2366.8 511.9 2366.3 519.2 C2365.8 526.5 2367.5 538.0 2367.7 541.8" stroke-width="4.06"/>
<path d="M2367.7 519.2 L2376.1 516.4" stroke-width="4.06"/>
<path d="M2387.4 520.6 L2412.8 519.2" stroke-width="4.06"/>
<path d="M2419 495.2 L2443.8 502.3 L2449.4 503.7" stroke-width="4.06"/>
<path d="M2419.8 503.7 L2441 509.3" stroke-width="4.06"/>
<ellipse cx="2453.7" cy="506.5" rx="7.1" ry="7.1" stroke-width="4.06"/>
<path d="M2429.7 519.2 C2428.0 521.1 2421.9 523.0 2419.8 530.5 C2417.7 538.0 2417.1 556.3 2417 564.3 C2416.9 572.3 2418.7 576.0 2419 578.4" stroke-width="4.06"/>
<path d="M2463.5 522 L2488.9 522" stroke-width="4.06"/>
<path d="M2462.1 529.1 L2486.1 530.5" stroke-width="4.06"/>
<path d="M2486.1 520.6 L2497.4 520.6 L2497.4 531.9 L2486.1 531.9 L2486.1 520.6" stroke-width="4.06"/>
<ellipse cx="2498.8" cy="496.6" rx="5.6" ry="5.6" stroke-width="4.06"/>
<path d="M2498.8 488.2 L2498.8 491" stroke-width="4.06"/>
<ellipse cx="2500.2" cy="506.5" rx="6.2" ry="6.2" stroke-width="4.06"/>
<path d="M2505.8 513.6 C2507.2 511.7 2510.5 504.7 2514.3 502.3 C2518.1 499.9 2524.9 497.6 2528.4 499.5 C2531.9 501.4 2534.3 511.2 2535.5 513.6" stroke-width="4.06"/>
<ellipse cx="2535.5" cy="522" rx="6.2" ry="6.2" stroke-width="4.06"/>
<path d="M2542.5 524.8 C2544.4 523.4 2550.0 516.9 2553.8 516.4 C2557.6 515.9 2562.8 518.2 2565.1 522 C2567.4 525.8 2567.4 536.1 2567.9 538.9" stroke-width="4.06"/>
<ellipse cx="2573.5" cy="544.6" rx="6.2" ry="6.2" stroke-width="4.06"/>
<path d="M2582 547.4 C2583.9 546.0 2588.6 539.8 2593.3 538.9 C2598.0 538.0 2606.4 539.0 2610.2 541.8 C2613.9 544.6 2614.9 553.5 2615.8 555.9" stroke-width="4.06"/>
<ellipse cx="2617.2" cy="565.7" rx="7.1" ry="7.1" stroke-width="4.06"/>
<path d="M2505.8 513.6 C2505.3 516.4 2501.6 525.8 2503 530.5 C2504.4 535.2 2510.5 539.4 2514.3 541.8 C2518.1 544.1 2523.7 544.1 2525.6 544.6" stroke-width="4.06"/>
<ellipse cx="2525.6" cy="544.6" rx="6.2" ry="6.2" stroke-width="4.06"/>
<path d="M2536.9 555.9 C2539.2 557.3 2545.8 562.7 2551 564.3 C2556.2 565.9 2565.1 565.5 2567.9 565.7" stroke-width="4.06"/>
<ellipse cx="2567.9" cy="567.1" rx="5.6" ry="3.4" stroke-width="4.06"/>
<path d="M2536.9 561.5 L2565.1 572.8" stroke-width="4.06"/>
<path d="M2556.6 530.5 L2559.4 544.6" stroke-width="4.06"/>
<path d="M2596.1 553 L2598.9 564.3" stroke-width="4.06"/>
<path d="M2463.5 541.8 C2462.3 543.7 2457.8 538.0 2456.5 553 C2455.2 568.0 2455.7 610.4 2455.9 632 C2456.1 653.6 2457.6 674.3 2457.9 682.8" stroke-width="4.06"/>
<path d="M2500.2 561.5 C2499.0 563.9 2494.6 559.1 2493.2 575.6 C2491.8 592.1 2491.7 640.0 2491.7 660.2 C2491.7 680.4 2492.9 690.8 2493.2 696.9" stroke-width="4.06"/>
<path d="M2534 584.1 C2533.1 586.5 2529.6 580.8 2528.4 598.2 C2527.2 615.6 2526.5 666.3 2527 688.4 C2527.5 710.5 2530.5 723.7 2531.2 730.7" stroke-width="4.06"/>
<path d="M2419.8 541.8 L2443.8 546" stroke-width="4.06"/>
<path d="M2459.3 561.5 L2483.3 568.6" stroke-width="4.06"/>
<path d="M2497.4 581.2 L2519.9 588.3" stroke-width="4.06"/>
<path d="M2531.2 603.8 L2551 608" stroke-width="4.06"/>
<path d="M2553.8 608 L2574.9 608" stroke-width="4.06"/>
<path d="M2579.2 584.1 L2607.4 581.2" stroke-width="4.06"/>
<path d="M2580.6 589.7 L2604.6 588.3" stroke-width="4.06"/>
<path d="M2618.7 598.2 L2629.9 586.9" stroke-width="4.06"/>
<path d="M2624.3 575.6 C2624.5 578.0 2624.8 585.9 2625.7 589.7 C2626.6 593.5 2629.2 596.8 2629.9 598.2" stroke-width="4.06"/>
<path d="M2629.9 598.2 L2652.5 598.2" stroke-width="4.06"/>
<path d="M2652.5 598.2 C2653.0 596.8 2653.4 591.4 2655.3 589.7 C2657.2 588.1 2660.8 587.4 2663.8 588.3 C2666.9 589.2 2671.2 590.4 2673.6 595.3 C2675.9 600.2 2677.2 614.1 2677.9 617.9" stroke-width="4.06"/>
<path d="M2677.9 617.9 L2677.9 688.4" stroke-width="4.06"/>
<path d="M2677.9 688.4 C2678.6 690.8 2682.1 698.3 2682.1 702.5 C2682.1 706.7 2680.0 711.4 2677.9 713.8 C2675.8 716.1 2670.8 716.1 2669.4 716.6" stroke-width="4.06"/>
<path d="M2669.4 716.6 L2666.6 736.4 L2635.6 744.8" stroke-width="4.06"/>
<ellipse cx="2634.2" cy="613.7" rx="7.9" ry="7.9" stroke-width="4.06"/>
<ellipse cx="2670.8" cy="703.9" rx="8.5" ry="8.5" stroke-width="4.06"/>
<path d="M2666.6 702.5 C2667.5 702.0 2670.8 699.2 2672.2 699.7 C2673.6 700.2 2674.6 704.4 2675.1 705.3" stroke-width="4.06"/>
<path d="M2584.8 620.7 L2598.9 609.4" stroke-width="4.06"/>
<path d="M2579.2 665.8 L2590.5 654.6" stroke-width="4.06"/>
<ellipse cx="2567.9" cy="663" rx="15.5" ry="18.3" transform="rotate(20 2567.9 663)" stroke-width="4.06"/>
<ellipse cx="2570.7" cy="722.3" rx="15.5" ry="18.3" transform="rotate(20 2570.7 722.3)" stroke-width="4.06"/>
<path d="M2567.9 660.2 C2569.3 660.7 2575.2 660.6 2576.4 663 C2577.6 665.4 2575.2 672.4 2574.9 674.3" stroke-width="4.06"/>
<path d="M2570.7 719.4 C2572.1 719.9 2578.0 719.9 2579.2 722.3 C2580.4 724.6 2578.0 731.6 2577.8 733.5" stroke-width="4.06"/>
<ellipse cx="2467.8" cy="608" rx="8.5" ry="9" stroke-width="4.06"/>
<path d="M2465 606.6 C2465.8 606.4 2468.8 604.6 2470 605.2 C2471.2 605.8 2472.4 609.1 2472 610.3 C2471.6 611.5 2468.5 612.0 2467.8 612.3" stroke-width="4.06"/>
<ellipse cx="2503" cy="625" rx="8.5" ry="9" stroke-width="4.06"/>
<path d="M2500.2 623.5 C2501.0 623.3 2504.1 621.5 2505.3 622.1 C2506.5 622.7 2507.7 626.0 2507.3 627.2 C2506.9 628.4 2503.7 628.9 2503 629.2" stroke-width="4.06"/>
<ellipse cx="2474.8" cy="653.2" rx="8.5" ry="9" stroke-width="4.06"/>
<path d="M2472 651.7 C2472.8 651.5 2475.9 649.7 2477.1 650.3 C2478.3 650.9 2479.5 654.2 2479.1 655.4 C2478.7 656.6 2475.5 657.1 2474.8 657.4" stroke-width="4.06"/>
<ellipse cx="2505.8" cy="671.5" rx="8.5" ry="9" stroke-width="4.06"/>
<path d="M2503 670.1 C2503.8 669.9 2506.9 668.1 2508.1 668.7 C2509.3 669.3 2510.5 672.5 2510.1 673.7 C2509.7 674.9 2506.5 675.4 2505.8 675.7" stroke-width="4.06"/>
<ellipse cx="2539.7" cy="691.2" rx="8.5" ry="9" stroke-width="4.06"/>
<path d="M2536.9 689.8 C2537.7 689.6 2540.7 687.8 2541.9 688.4 C2543.1 689.0 2544.3 692.3 2543.9 693.5 C2543.5 694.7 2540.4 695.2 2539.7 695.5" stroke-width="4.06"/>
<ellipse cx="2539.7" cy="648.9" rx="8.5" ry="9" stroke-width="4.06"/>
<path d="M2536.9 647.5 C2537.7 647.3 2540.7 645.5 2541.9 646.1 C2543.1 646.7 2544.3 650.0 2543.9 651.2 C2543.5 652.4 2540.4 652.9 2539.7 653.2" stroke-width="4.06"/>
<path d="M2376.1 547.4 C2377.5 548.3 2382.9 550.2 2384.6 553 C2386.2 555.8 2386.9 561.7 2386 564.3 C2385.1 566.9 2381.2 568.6 2378.9 568.6 C2376.6 568.6 2373.1 565.0 2371.9 564.3" stroke-width="4.06"/>
<path d="M2370.5 547.4 C2371.9 546.9 2376.1 544.6 2378.9 544.6 C2381.7 544.6 2386.0 546.9 2387.4 547.4" stroke-width="4.06"/>
<path d="M2364.8 572.8 L2366.3 601" stroke-width="4.06"/>
<path d="M2398.7 567.1 L2370.5 589.7 L2398.7 598.2" stroke-width="4.06"/>
<path d="M2373.3 581.2 L2387.4 575.6" stroke-width="4.06"/>
<path d="M2373.3 598.2 L2395.9 589.7" stroke-width="4.06"/>
<path d="M2331 578.4 C2330.8 580.8 2330.1 588.0 2329.6 592.5 C2329.1 597.0 2328.4 603.1 2328.2 605.2" stroke-width="4.06"/>
<path d="M2339.5 584.1 C2340.0 585.5 2342.8 589.7 2342.3 592.5 C2341.8 595.3 2337.6 599.6 2336.6 601" stroke-width="4.06"/>
<path d="M2362 629.2 C2362.5 631.1 2362.0 637.2 2364.8 640.5 C2367.6 643.8 2376.6 647.5 2378.9 648.9" stroke-width="4.06"/>
<path d="M2418.4 605.2 L2545.3 674.3" stroke-width="5.08"/>
<path d="M2424.1 572.8 C2425.0 573.3 2428.3 572.8 2429.7 575.6 C2431.1 578.4 2432.5 585.9 2432.5 589.7 C2432.5 593.5 2431.1 598.2 2429.7 598.2 C2428.3 598.2 2425.0 591.1 2424.1 589.7" stroke-width="4.06"/>
<path d="M2443.8 586.9 C2444.0 588.3 2446.1 593.4 2445.2 595.3 C2444.3 597.2 2439.4 597.7 2438.2 598.2" stroke-width="4.06"/>
<path d="M2424.1 617.9 C2425.0 618.4 2428.3 617.9 2429.7 620.7 C2431.1 623.5 2432.5 631.0 2432.5 634.8 C2432.5 638.6 2431.1 643.3 2429.7 643.3 C2428.3 643.3 2425.0 636.2 2424.1 634.8" stroke-width="4.06"/>
<path d="M2443.8 632 C2444.0 633.4 2446.1 638.6 2445.2 640.5 C2444.3 642.4 2439.4 642.8 2438.2 643.3" stroke-width="4.06"/>
<path d="M2418.4 615.1 L2424.1 617.9" stroke-width="4.06"/>
<path d="M2418.4 648.9 L2418.4 668.7" stroke-width="4.06"/>
<path d="M2418.4 668.7 C2419.3 670.1 2421.3 675.2 2424.1 677.1 C2426.9 679.0 2430.1 679.4 2435.3 679.9 C2440.5 680.4 2451.8 679.9 2455.1 679.9" stroke-width="4.06"/>
<path d="M2457.9 682.8 C2459.3 685.1 2461.2 694.1 2466.4 696.9 C2471.6 699.7 2485.2 699.2 2488.9 699.7" stroke-width="4.06"/>
<path d="M2493.2 696.9 C2494.8 699.7 2497.1 710.5 2503 713.8 C2508.9 717.1 2524.2 716.1 2528.4 716.6" stroke-width="4.06"/>
<path d="M2531.2 730.7 C2533.1 733.1 2536.8 742.9 2542.5 744.8 C2548.2 746.7 2561.3 742.5 2565.1 742" stroke-width="4.06"/>
<path d="M2567.9 742 C2569.3 744.8 2572.2 754.9 2576.4 758.9 C2580.6 762.9 2586.2 765.3 2593.3 766 C2600.4 766.7 2614.5 763.6 2618.7 763.1" stroke-width="4.06"/>
<path d="M2600.3 725.1 L2601.7 753.3" stroke-width="4.06"/>
<path d="M2611.6 722.3 L2613 753.3" stroke-width="4.06"/>
<path d="M2658.1 727.9 C2655.8 727.9 2648.0 726.5 2644 727.9 C2640.0 729.3 2635.6 733.6 2634.2 736.4 C2632.8 739.2 2633.5 743.6 2635.6 744.8 C2637.7 746.0 2645.0 743.6 2646.9 743.4" stroke-width="4.06"/>
<ellipse cx="2629.9" cy="756.1" rx="1.4" ry="1.4" stroke-width="0" fill="#000"/>
<path d="M2551 646.1 L2553.8 716.6" stroke-width="4.06"/>
<path d="M2546.7 617.9 L2548.2 646.1" stroke-width="4.06"/>
<!-- 12_labelsA.py -->
<path d="M2348.9 730 L2372.6 777.4" stroke-width="2.79"/>
<!-- 13_detailC_top.py -->
<path d="M2313.4 1183.8 C2311.9 1187.0 2293.0 1226.0 2291.4 1231.2 C2289.8 1236.4 2289.8 1257.4 2289.7 1261.7 C2289.6 1266.0 2289.7 1293.2 2289.7 1295.5" stroke-width="4.32"/>
<path d="M2333.7 1190.6 C2332.2 1193.8 2313.1 1233.0 2311.7 1238 C2310.3 1243.0 2312.6 1261.3 2312.7 1265.1 C2312.8 1268.9 2313.4 1293.5 2313.4 1295.5" stroke-width="4.32"/>
<path d="M2313.4 1183.2 L2335.3 1187.9" stroke-width="4.32"/>
<path d="M2321.8 1183.8 L2336.4 1187.2 L2332 1195.7 Z" fill="#000" stroke="none" stroke-width="0"/>
<path d="M2286.3 1295.5 L2287 1309.1" stroke-width="4.32"/>
<path d="M2315 1295.5 L2314 1309.1" stroke-width="4.32"/>
<path d="M2287 1299.6 C2289.1 1299.9 2295.3 1301.6 2299.8 1301.6 C2304.3 1301.6 2311.6 1299.9 2314 1299.6" stroke-width="4.32"/>
<path d="M2288 1309.1 C2290.0 1309.4 2295.6 1311.1 2299.8 1311.1 C2304.0 1311.1 2311.1 1309.4 2313.4 1309.1" stroke-width="4.32"/>
<path d="M2292.4 1309.7 L2292.4 1329.4" stroke-width="4.32"/>
<path d="M2309.3 1309.7 L2310 1329.4" stroke-width="4.32"/>
<path d="M2281.2 1334.4 C2282.3 1333.9 2289.5 1329.9 2292.4 1329.4 C2295.3 1328.9 2307.2 1328.9 2310 1329.4 C2312.8 1329.9 2319.1 1333.9 2320.1 1334.4" stroke-width="4.32"/>
<path d="M2281.2 1334.4 L2279.5 1366.6" stroke-width="4.32"/>
<path d="M2320.1 1334.4 L2320.8 1366.6" stroke-width="4.32"/>
<path d="M2279.5 1366.6 C2280.3 1368.4 2281.2 1375.0 2284.6 1377.4 C2288.0 1379.8 2294.6 1380.8 2299.8 1380.8 C2305.1 1380.8 2312.6 1379.8 2316.1 1377.4 C2319.6 1375.0 2320.0 1368.4 2320.8 1366.6" stroke-width="4.32"/>
<path d="M2281.2 1349.7 C2284.3 1350.2 2293.3 1353.0 2299.8 1353 C2306.3 1353.0 2316.7 1350.2 2320.1 1349.7" stroke-width="4.32"/>
<path d="M2292.4 1352.4 L2290.3 1377.4" stroke-width="4.32"/>
<path d="M2311.7 1352.4 L2313.4 1377.4" stroke-width="4.32"/>
<path d="M2222 1244.8 C2220.5 1248.0 2201.6 1286.9 2200 1292.1 C2198.4 1297.3 2198.4 1318.3 2198.3 1322.6 C2198.2 1326.9 2198.3 1354.1 2198.3 1356.4" stroke-width="4.32"/>
<path d="M2242.3 1251.5 C2240.8 1254.7 2221.7 1293.9 2220.3 1298.9 C2218.9 1303.9 2221.2 1322.2 2221.3 1326 C2221.4 1329.8 2222.0 1354.4 2222 1356.4" stroke-width="4.32"/>
<path d="M2222 1244.1 L2244 1248.8" stroke-width="4.32"/>
<path d="M2230.4 1244.8 L2245 1248.1 L2240.6 1256.6 Z" fill="#000" stroke="none" stroke-width="0"/>
<path d="M2194.9 1356.4 L2195.6 1370" stroke-width="4.32"/>
<path d="M2223.7 1356.4 L2222.7 1370" stroke-width="4.32"/>
<path d="M2195.6 1360.5 C2197.7 1360.8 2203.9 1362.5 2208.4 1362.5 C2212.9 1362.5 2220.3 1360.8 2222.7 1360.5" stroke-width="4.32"/>
<path d="M2196.6 1370 C2198.6 1370.3 2204.2 1372.0 2208.4 1372 C2212.6 1372.0 2219.7 1370.3 2222 1370" stroke-width="4.32"/>
<path d="M2201 1370.6 L2201 1390.3" stroke-width="4.32"/>
<path d="M2217.9 1370.6 L2218.6 1390.3" stroke-width="4.32"/>
<path d="M2189.8 1395.3 C2190.9 1394.8 2198.1 1390.8 2201 1390.3 C2203.9 1389.8 2215.8 1389.8 2218.6 1390.3 C2221.4 1390.8 2227.7 1394.8 2228.7 1395.3" stroke-width="4.32"/>
<path d="M2189.8 1395.3 L2188.1 1427.5" stroke-width="4.32"/>
<path d="M2228.7 1395.3 L2229.4 1427.5" stroke-width="4.32"/>
<path d="M2188.1 1427.5 C2188.9 1429.3 2189.8 1435.9 2193.2 1438.3 C2196.6 1440.7 2203.2 1441.7 2208.4 1441.7 C2213.7 1441.7 2221.2 1440.7 2224.7 1438.3 C2228.2 1435.9 2228.6 1429.3 2229.4 1427.5" stroke-width="4.32"/>
<path d="M2189.8 1410.6 C2192.9 1411.2 2201.9 1414.0 2208.4 1414 C2214.9 1414.0 2225.3 1411.2 2228.7 1410.6" stroke-width="4.32"/>
<path d="M2201 1413.3 L2199 1438.3" stroke-width="4.32"/>
<path d="M2220.3 1413.3 L2222 1438.3" stroke-width="4.32"/>
<path d="M2289.7 1430.9 C2289.8 1429.8 2288.6 1425.6 2290.3 1424.1 C2292.0 1422.6 2296.6 1421.7 2299.8 1421.7 C2303.0 1421.7 2307.6 1422.6 2309.3 1424.1 C2311.0 1425.6 2309.9 1429.8 2310 1430.9" stroke-width="4.32"/>
<path d="M2289.7 1430.9 L2289 1441" stroke-width="4.32"/>
<path d="M2310 1430.9 L2310.6 1441" stroke-width="4.32"/>
<path d="M2293 1429.2 C2294.1 1429.5 2297.5 1430.9 2299.8 1430.9 C2302.1 1430.9 2305.5 1429.5 2306.6 1429.2" stroke-width="4.32"/>
<path d="M2279.5 1449.5 C2280.4 1448.7 2285.9 1441.8 2289 1441 C2292.1 1440.2 2307.6 1440.2 2310.6 1441 C2313.6 1441.8 2318.5 1448.7 2319.4 1449.5" stroke-width="4.32"/>
<path d="M2279.5 1449.5 C2282.9 1450.3 2293.2 1454.6 2299.8 1454.6 C2306.5 1454.6 2316.1 1450.3 2319.4 1449.5" stroke-width="4.32"/>
<path d="M2279.5 1449.5 L2279.5 1463 L2288 1473.2" stroke-width="4.32"/>
<path d="M2319.4 1449.5 L2319.4 1463 L2311.7 1473.2" stroke-width="4.32"/>
<path d="M2288 1473.2 C2290.0 1473.6 2295.9 1475.5 2299.8 1475.5 C2303.8 1475.5 2309.7 1473.6 2311.7 1473.2" stroke-width="4.32"/>
<ellipse cx="2283.6" cy="1463" rx="2.4" ry="4.7" stroke-width="3.17"/>
<ellipse cx="2315.4" cy="1463" rx="2.4" ry="4.7" stroke-width="3.17"/>
<path d="M2288 1473.2 L2289 1488.4" stroke-width="4.32"/>
<path d="M2311.7 1473.2 L2310.6 1488.4" stroke-width="4.32"/>
<path d="M2289 1483.3 C2290.8 1483.7 2296.2 1485.7 2299.8 1485.7 C2303.4 1485.7 2308.8 1483.7 2310.6 1483.3" stroke-width="4.32"/>
<path d="M2289 1488.4 C2290.8 1489.2 2296.2 1493.5 2299.8 1493.5 C2303.4 1493.5 2308.8 1489.2 2310.6 1488.4" stroke-width="4.32"/>
<path d="M2201.7 1485 C2201.8 1483.9 2200.7 1479.8 2202.4 1478.3 C2204.1 1476.8 2208.7 1475.9 2211.8 1475.9 C2215.0 1475.9 2219.6 1476.8 2221.3 1478.3 C2223.0 1479.8 2221.9 1483.9 2222 1485" stroke-width="4.32"/>
<path d="M2201.7 1485 L2201 1495.2" stroke-width="4.32"/>
<path d="M2222 1485 L2222.7 1495.2" stroke-width="4.32"/>
<path d="M2205.1 1483.3 C2206.2 1483.6 2209.6 1485.0 2211.8 1485 C2214.1 1485.0 2217.5 1483.6 2218.6 1483.3" stroke-width="4.32"/>
<path d="M2191.5 1503.6 C2192.4 1502.8 2197.9 1496.0 2201 1495.2 C2204.1 1494.4 2219.6 1494.4 2222.7 1495.2 C2225.8 1496.0 2230.6 1502.8 2231.5 1503.6" stroke-width="4.32"/>
<path d="M2191.5 1503.6 C2194.9 1504.4 2205.1 1508.7 2211.8 1508.7 C2218.5 1508.7 2228.2 1504.4 2231.5 1503.6" stroke-width="4.32"/>
<path d="M2191.5 1503.6 L2191.5 1517.2 L2200 1527.3" stroke-width="4.32"/>
<path d="M2231.5 1503.6 L2231.5 1517.2 L2223.7 1527.3" stroke-width="4.32"/>
<path d="M2200 1527.3 C2202.0 1527.7 2207.9 1529.7 2211.8 1529.7 C2215.8 1529.7 2221.7 1527.7 2223.7 1527.3" stroke-width="4.32"/>
<ellipse cx="2195.6" cy="1517.2" rx="2.4" ry="4.7" stroke-width="3.17"/>
<ellipse cx="2227.4" cy="1517.2" rx="2.4" ry="4.7" stroke-width="3.17"/>
<path d="M2200 1527.3 L2201 1542.6" stroke-width="4.32"/>
<path d="M2223.7 1527.3 L2222.7 1542.6" stroke-width="4.32"/>
<path d="M2201 1537.5 C2202.8 1537.9 2208.2 1539.8 2211.8 1539.8 C2215.4 1539.8 2220.9 1537.9 2222.7 1537.5" stroke-width="4.32"/>
<path d="M2201 1542.6 C2202.8 1543.4 2208.2 1547.6 2211.8 1547.6 C2215.4 1547.6 2220.9 1543.4 2222.7 1542.6" stroke-width="4.32"/>
<ellipse cx="2299.8" cy="1522.3" rx="14.2" ry="9.5" stroke-width="5.71"/>
<ellipse cx="2212.5" cy="1577.1" rx="16.9" ry="11.2" stroke-width="5.08"/>
<path d="M2414.9 1240.7 L2320.8 1287.1"/>
<path d="M2096.8 1308.4 L2184.8 1342.2"/>
<path d="M2418.9 1416.7 L2330.9 1445.1"/>
<path d="M2106.9 1505.3 L2175.3 1506"/>
<path d="M2421 1503.6 L2315 1522.9"/>
<path d="M2110.3 1610.9 L2185.4 1584.9"/>
<path d="M2300.5 1547.6 L2301.5 1603.5 L2247.4 1635.6 L2247.4 1650.2"/>
<path d="M2212.5 1606.2 L2214.5 1650.2"/>
<!-- 14_detailC_mid.py -->
<path d="M2110.4 1610.9 L2184.9 1583.8" stroke-width="3.56"/>
<path d="M2051.9 1703 L2157.8 1727.7" stroke-width="3.56"/>
<path d="M1912.4 1763.2 L2027.5 1823.4" stroke-width="3.56"/>
<path d="M1922.6 1895.2 L2015.7 1888.4" stroke-width="3.56"/>
<path d="M2289.8 1856.3 L2335.4 1849.5" stroke-width="3.56"/>
<path d="M2289.8 1934.1 L2340.5 1935.1" stroke-width="3.56"/>
<path d="M2211.9 1605.8 L2214.3 1682" stroke-width="3.56"/>
<path d="M2299.9 1550 L2299.9 1602.5 L2247.5 1634.6 L2247.5 1658.3" stroke-width="3.56"/>
<path d="M2256.9 1780.1 L2256.9 1837.6" stroke-width="3.56"/>
<path d="M2041.7 1805.5 L2042.7 1771.7 L2210.2 1858 L2211.9 1805.5" stroke-width="4.06"/>
<path d="M2169.6 1702.3 L2203.5 1719.2 L2288.1 1676.9" stroke-width="4.32"/>
<path d="M2169.6 1702.3 L2203.5 1681.3" stroke-width="4.32"/>
<path d="M2222.1 1668.4 L2233.9 1661.7" stroke-width="4.32"/>
<path d="M2257.6 1658.3 L2288.1 1676.9" stroke-width="4.32"/>
<path d="M2169.6 1702.3 L2167.9 1753" stroke-width="4.32"/>
<path d="M2203.5 1719.2 L2208.5 1795.3" stroke-width="4.32"/>
<path d="M2288.1 1676.9 L2289.8 1749.7 L2205.2 1796.4 L2189.9 1792" stroke-width="4.32"/>
<ellipse cx="2213.6" cy="1697.2" rx="8.1" ry="4.7" stroke-width="4.32"/>
<ellipse cx="2248.1" cy="1677.9" rx="8.1" ry="4.7" stroke-width="4.32"/>
<ellipse cx="2179.8" cy="1740.2" rx="14.2" ry="15.6" stroke-width="7.62"/>
<ellipse cx="2177.1" cy="1744.6" rx="5.4" ry="6.1" stroke-width="4.32"/>
<ellipse cx="2180.5" cy="1771.7" rx="13.5" ry="14.9" stroke-width="6.35"/>
<ellipse cx="2179.1" cy="1774" rx="4.7" ry="5.4" stroke-width="4.32"/>
<path d="M2271.2 1665.1 L2288.1 1668.4 L2293.1 1680.3 L2289.8 1692.1 L2283 1685.4 L2277.9 1675.2 Z" fill="#000" stroke="none" stroke-width="0"/>
<ellipse cx="2275.2" cy="1695.5" rx="4.1" ry="6.1" transform="rotate(20 2275.2 1695.5)" stroke-width="4.32"/>
<path d="M2288.1 1698.9 C2288.9 1700.6 2292.6 1705.4 2293.1 1709.1 C2293.6 1712.8 2291.2 1718.9 2290.8 1720.9" stroke-width="4.32"/>
<ellipse cx="2214.3" cy="1728.7" rx="4.7" ry="6.8" transform="rotate(20 2214.3 1728.7)" stroke-width="4.32"/>
<path d="M2247.5 1746.3 C2247.9 1747.4 2248.5 1751.6 2250.2 1753 C2251.9 1754.4 2256.4 1754.4 2257.6 1754.7" stroke-width="4.32"/>
<path d="M2257.6 1749.7 L2262.7 1746.3" stroke-width="4.32"/>
<path d="M2211.9 1771.7 C2213.0 1772.0 2217.6 1772.0 2218.7 1773.4 C2219.8 1774.8 2219.8 1778.5 2218.7 1780.1 C2217.6 1781.7 2213.0 1782.3 2211.9 1782.8" stroke-width="4.32"/>
<path d="M2200.1 1775 L2205.2 1771.7 L2205.2 1780.1 Z" fill="#000" stroke="none" stroke-width="0"/>
<ellipse cx="2044.4" cy="1828.2" rx="16.2" ry="10.2" stroke-width="5.71"/>
<ellipse cx="2260.3" cy="1859.6" rx="16.2" ry="10.2" stroke-width="5.71"/>
<path d="M2034.9 1863.7 C2035.0 1862.6 2033.9 1858.4 2035.6 1856.9 C2037.3 1855.4 2041.9 1854.6 2045.1 1854.6 C2048.3 1854.6 2052.9 1855.4 2054.6 1856.9 C2056.3 1858.4 2055.1 1862.6 2055.2 1863.7" stroke-width="4.32"/>
<path d="M2034.9 1863.7 L2034.3 1873.9" stroke-width="4.32"/>
<path d="M2055.2 1863.7 L2055.9 1873.9" stroke-width="4.32"/>
<path d="M2038.3 1862 C2039.4 1862.3 2042.8 1863.7 2045.1 1863.7 C2047.4 1863.7 2050.8 1862.3 2051.9 1862" stroke-width="4.32"/>
<path d="M2024.8 1882.3 C2025.8 1881.5 2031.2 1874.7 2034.3 1873.9 C2037.4 1873.1 2052.9 1873.1 2055.9 1873.9 C2058.9 1874.7 2063.8 1881.5 2064.7 1882.3" stroke-width="4.32"/>
<path d="M2024.8 1882.3 C2028.2 1883.2 2038.4 1887.4 2045.1 1887.4 C2051.8 1887.4 2061.4 1883.2 2064.7 1882.3" stroke-width="4.32"/>
<path d="M2024.8 1882.3 L2024.8 1895.9 L2033.2 1906" stroke-width="4.32"/>
<path d="M2064.7 1882.3 L2064.7 1895.9 L2056.9 1906" stroke-width="4.32"/>
<path d="M2033.2 1906 C2035.2 1906.4 2041.1 1908.4 2045.1 1908.4 C2049.0 1908.4 2054.9 1906.4 2056.9 1906" stroke-width="4.32"/>
<ellipse cx="2028.8" cy="1895.9" rx="2.4" ry="4.7" stroke-width="3.17"/>
<ellipse cx="2060.7" cy="1895.9" rx="2.4" ry="4.7" stroke-width="3.17"/>
<path d="M2033.2 1906 L2034.3 1921.2" stroke-width="4.32"/>
<path d="M2056.9 1906 L2055.9 1921.2" stroke-width="4.32"/>
<path d="M2034.3 1916.2 C2036.1 1916.6 2041.5 1918.5 2045.1 1918.5 C2048.7 1918.5 2054.1 1916.6 2055.9 1916.2" stroke-width="4.32"/>
<path d="M2034.3 1921.2 C2036.1 1922.0 2041.5 1926.3 2045.1 1926.3 C2048.7 1926.3 2054.1 1922.0 2055.9 1921.2" stroke-width="4.32"/>
<path d="M2250.2 1900.9 C2250.3 1899.8 2249.1 1895.7 2250.8 1894.2 C2252.5 1892.7 2257.1 1891.8 2260.3 1891.8 C2263.5 1891.8 2268.1 1892.7 2269.8 1894.2 C2271.5 1895.7 2270.4 1899.8 2270.5 1900.9" stroke-width="4.32"/>
<path d="M2250.2 1900.9 L2249.5 1911.1" stroke-width="4.32"/>
<path d="M2270.5 1900.9 L2271.2 1911.1" stroke-width="4.32"/>
<path d="M2253.6 1899.2 C2254.7 1899.5 2258.1 1900.9 2260.3 1900.9 C2262.6 1900.9 2266.0 1899.5 2267.1 1899.2" stroke-width="4.32"/>
<path d="M2240 1919.5 C2240.9 1918.7 2246.4 1911.9 2249.5 1911.1 C2252.6 1910.3 2268.2 1910.3 2271.2 1911.1 C2274.2 1911.9 2279.0 1918.7 2279.9 1919.5" stroke-width="4.32"/>
<path d="M2240 1919.5 C2243.4 1920.3 2253.7 1924.6 2260.3 1924.6 C2267.0 1924.6 2276.6 1920.3 2279.9 1919.5" stroke-width="4.32"/>
<path d="M2240 1919.5 L2240 1933.1 L2248.5 1943.2" stroke-width="4.32"/>
<path d="M2279.9 1919.5 L2279.9 1933.1 L2272.2 1943.2" stroke-width="4.32"/>
<path d="M2248.5 1943.2 C2250.5 1943.6 2256.4 1945.6 2260.3 1945.6 C2264.2 1945.6 2270.2 1943.6 2272.2 1943.2" stroke-width="4.32"/>
<ellipse cx="2244.1" cy="1933.1" rx="2.4" ry="4.7" stroke-width="3.17"/>
<ellipse cx="2275.9" cy="1933.1" rx="2.4" ry="4.7" stroke-width="3.17"/>
<path d="M2248.5 1943.2 L2249.5 1958.5" stroke-width="4.32"/>
<path d="M2272.2 1943.2 L2271.2 1958.5" stroke-width="4.32"/>
<path d="M2249.5 1953.4 C2251.3 1953.8 2256.7 1955.8 2260.3 1955.8 C2263.9 1955.8 2269.4 1953.8 2271.2 1953.4" stroke-width="4.32"/>
<path d="M2249.5 1958.5 C2251.3 1959.3 2256.7 1963.5 2260.3 1963.5 C2263.9 1963.5 2269.4 1959.3 2271.2 1958.5" stroke-width="4.32"/>
<ellipse cx="2044.4" cy="1977.1" rx="21" ry="10.8" stroke-width="4.32"/>
<ellipse cx="2044.4" cy="1977.1" rx="9.5" ry="5.1" stroke-width="4.32"/>
<path d="M2023.4 1977.1 L2023.4 2009.2" stroke-width="4.32"/>
<path d="M2065.4 1977.1 L2065.4 2009.2" stroke-width="4.32"/>
<path d="M2023.4 1990.6 C2026.9 1991.8 2037.4 1998.1 2044.4 1998.1 C2051.4 1998.1 2061.9 1991.8 2065.4 1990.6" stroke-width="4.32"/>
<path d="M2023.4 2002.5 C2026.9 2003.7 2037.4 2009.9 2044.4 2009.9 C2051.4 2009.9 2061.9 2003.7 2065.4 2002.5" stroke-width="4.32"/>
<path d="M2023.4 2009.2 C2024.7 2010.5 2027.4 2015.3 2030.9 2017 C2034.4 2018.7 2039.9 2019.4 2044.4 2019.4 C2048.9 2019.4 2054.5 2018.7 2058 2017 C2061.5 2015.3 2064.2 2010.5 2065.4 2009.2" stroke-width="4.32"/>
<ellipse cx="2027.5" cy="2000.8" rx="2" ry="4.1" stroke-width="3.17"/>
<ellipse cx="2061.3" cy="2000.8" rx="2" ry="4.1" stroke-width="3.17"/>
<path d="M2030.9 2017 L2031.6 2218" stroke-width="4.32"/>
<path d="M2058 2017 L2058.6 2218" stroke-width="4.32"/>
<path d="M2031.6 2218 C2033.7 2218.3 2039.9 2220.1 2044.4 2220.1 C2048.9 2220.1 2056.2 2218.3 2058.6 2218" stroke-width="4.32"/>
<path d="M2053.9 2068.4 L2042.7 2087.1" stroke-width="3.05"/>
<path d="M2053.9 2087.1 L2042.7 2105.7" stroke-width="3.05"/>
<path d="M2053.9 2105.7 L2042.7 2124.3" stroke-width="3.05"/>
<path d="M2053.9 2124.3 L2042.7 2142.9" stroke-width="3.05"/>
<ellipse cx="2260.3" cy="2015.3" rx="21" ry="10.8" stroke-width="4.32"/>
<ellipse cx="2260.3" cy="2015.3" rx="9.5" ry="5.1" stroke-width="4.32"/>
<path d="M2239.3 2015.3 L2239.3 2047.5" stroke-width="4.32"/>
<path d="M2281.3 2015.3 L2281.3 2047.5" stroke-width="4.32"/>
<path d="M2239.3 2028.8 C2242.8 2030.0 2253.3 2036.3 2260.3 2036.3 C2267.3 2036.3 2277.8 2030.0 2281.3 2028.8" stroke-width="4.32"/>
<path d="M2239.3 2040.7 C2242.8 2041.9 2253.3 2048.1 2260.3 2048.1 C2267.3 2048.1 2277.8 2041.9 2281.3 2040.7" stroke-width="4.32"/>
<path d="M2239.3 2047.5 C2240.6 2048.8 2243.3 2053.5 2246.8 2055.2 C2250.3 2056.9 2255.8 2057.6 2260.3 2057.6 C2264.8 2057.6 2270.4 2056.9 2273.9 2055.2 C2277.4 2053.5 2280.1 2048.8 2281.3 2047.5" stroke-width="4.32"/>
<ellipse cx="2243.4" cy="2039" rx="2" ry="4.1" stroke-width="3.17"/>
<ellipse cx="2277.2" cy="2039" rx="2" ry="4.1" stroke-width="3.17"/>
<path d="M2246.8 2055.2 L2247.5 2238.7" stroke-width="4.32"/>
<path d="M2273.9 2055.2 L2274.5 2238.7" stroke-width="4.32"/>
<path d="M2247.5 2238.7 C2249.6 2239.0 2255.8 2240.7 2260.3 2240.7 C2264.8 2240.7 2272.1 2239.0 2274.5 2238.7" stroke-width="4.32"/>
<path d="M2269.8 2106.7 L2258.6 2125.3" stroke-width="3.05"/>
<path d="M2269.8 2125.3 L2258.6 2143.9" stroke-width="3.05"/>
<path d="M2269.8 2143.9 L2258.6 2162.5" stroke-width="3.05"/>
<path d="M2269.8 2162.5 L2258.6 2181.1" stroke-width="3.05"/>
<!-- 15_detailC_labels.py -->
<path d="M1940.5 2114.9 L2019.6 2087.8" stroke-width="3.56"/>
<path d="M2285.1 2125.7 L2394.6 2154.1" stroke-width="3.56"/>
<path d="M2382.4 1655.4 L2364.2 1708.1" stroke-width="3.56"/>
<path d="M2506.1 1718.2 L2455.4 1768.9" stroke-width="3.56"/>
<path d="M2289.9 1934.5 L2340.5 1934.5" stroke-width="3.56"/>
<path d="M2289.9 1856.8 L2337.2 1850" stroke-width="3.56"/>
<ellipse cx="2352.7" cy="1736.5" rx="14.9" ry="22.3" transform="rotate(20 2352.7 1736.5)" stroke-width="4.32"/>
<ellipse cx="2352.7" cy="1736.5" rx="5.4" ry="8.8" transform="rotate(20 2352.7 1736.5)" stroke-width="4.32"/>
<path d="M2401.4 1752 L2482.4 1795.9" stroke-width="4.32"/>
<path d="M2389.2 1770.3 L2465.5 1819.6" stroke-width="4.32"/>
<path d="M2401.4 1752 C2399.7 1752.3 2393.5 1752.2 2391.2 1754.1 C2388.9 1756.0 2388.1 1760.8 2387.8 1763.5 C2387.5 1766.2 2389.0 1769.2 2389.2 1770.3" stroke-width="4.32"/>
<path d="M2411.5 1756.8 C2410.4 1758.2 2405.5 1761.8 2404.7 1765.5 C2403.9 1769.2 2406.5 1776.8 2406.8 1779.1" stroke-width="4.32"/>
<path d="M2428.4 1765.5 C2427.3 1767.2 2422.5 1771.8 2421.6 1775.7 C2420.7 1779.7 2422.8 1787.0 2423 1789.2" stroke-width="4.32"/>
<path d="M2475.7 1802.7 L2495.9 1792.6 L2516.2 1802.7 L2523 1826.4 L2506.1 1848.6 L2482.4 1843.2 L2465.5 1826.4 L2475.7 1802.7" stroke-width="4.32"/>
<path d="M2475.7 1802.7 L2492.6 1816.2 L2506.1 1848.6" stroke-width="4.32"/>
<path d="M2492.6 1816.2 L2516.2 1802.7" stroke-width="4.32"/>
<!-- 16_cylB.py -->
<path d="M1152 1682.4 L1207.3 1936.2" stroke-width="3.05"/>
<path d="M1187.5 1888.9 L1207.3 1882.9 L1210 1937.4 Z" fill="#000" stroke="none" stroke-width="0"/>
<path d="M1390.9 1865.2 C1394.2 1860.3 1402.7 1842.4 1410.6 1835.6 C1418.5 1828.8 1429.0 1824.5 1438.2 1824.5 C1447.4 1824.5 1458.7 1827.8 1465.9 1835.6 C1473.2 1843.4 1479.1 1865.2 1481.7 1871.1" stroke-width="3.56"/>
<path d="M1477.7 1890.8 L1473.8 1902.7" stroke-width="3.56"/>
<path d="M1463.9 1916.5 L1459.9 1920.5" stroke-width="3.56"/>
<path d="M1454 1932.3 C1451.4 1933.8 1444.1 1939.4 1438.2 1941.4 C1432.3 1943.4 1421.8 1943.6 1418.5 1944.1" stroke-width="3.56"/>
<ellipse cx="1440.2" cy="1890.8" rx="15" ry="24.5" transform="rotate(22 1440.2 1890.8)" stroke-width="3.56"/>
<path d="M1450.1 1841.5 L1465.9 1835.6" stroke-width="3.56"/>
<path d="M1355.3 1871.1 C1359.2 1870.8 1371.1 1865.1 1379 1869.1 C1386.9 1873.0 1396.5 1884.6 1402.7 1894.8 C1409.0 1905.0 1414.5 1920.4 1416.5 1930.3 C1418.5 1940.2 1414.8 1950.0 1414.5 1954" stroke-width="3.56"/>
<path d="M1347.4 1875 C1352.0 1876.3 1366.5 1875.7 1375.1 1882.9 C1383.7 1890.2 1393.5 1906.0 1398.8 1918.5 C1404.1 1931.0 1405.4 1951.4 1406.7 1958" stroke-width="3.56"/>
<path d="M1406.7 1958 L1414.5 1954" stroke-width="3.56"/>
<path d="M1396.8 1944.1 L1406.7 1940.2 L1406.7 1952 Z" fill="#000" stroke="none" stroke-width="0"/>
<path d="M1400.7 1888.9 L1418.5 1869.1" stroke-width="3.56"/>
<path d="M966.5 1946.1 L1086.9 1879 L1088.8 2013.2"/>
<path d="M1408.6 1971.8 L1410.6 2084.3 L1442.2 2100.1 L1529 2151.4"/>
<path d="M1355.3 1873.7 L1304 1901.3" stroke-width="3.56"/>
<path d="M1286.3 1910.4 L1290.2 1908.4" stroke-width="3.56"/>
<path d="M1276.4 1917.1 L1039.5 2065.2" stroke-width="3.56"/>
<path d="M1400 1960.5 L1165.9 2106.6" stroke-width="3.56"/>
<path d="M1152 2113.7 L1156 2111.7" stroke-width="3.56"/>
<path d="M1142.2 2122.4 L1094.8 2152" stroke-width="3.56"/>
<path d="M1039.5 2065.2 C1043.5 2066.8 1055.3 2068.1 1063.2 2075 C1071.1 2081.9 1081.6 2093.8 1086.9 2106.6 C1092.2 2119.4 1093.5 2144.4 1094.8 2152" stroke-width="3.56"/>
<path d="M1031.6 2069.1 C1035.5 2071.4 1048.1 2075.3 1055.3 2082.9 C1062.5 2090.5 1070.4 2102.3 1075 2114.5 C1079.6 2126.7 1081.6 2149.1 1082.9 2156" stroke-width="3.56"/>
<path d="M1031.6 2069.1 C1029.0 2071.4 1019.1 2077.3 1015.8 2082.9 C1012.5 2088.5 1012.5 2099.4 1011.9 2102.7" stroke-width="3.56"/>
<path d="M1011.9 2102.7 C1015.8 2101.0 1028.4 2092.2 1035.6 2092.8 C1042.8 2093.5 1050.4 2099.7 1055.3 2106.6 C1060.2 2113.5 1065.2 2125.0 1065.2 2134.2 C1065.2 2143.4 1058.9 2158.6 1055.3 2161.9 C1051.7 2165.2 1045.5 2155.3 1043.5 2154" stroke-width="3.56"/>
<path d="M1043.5 2154 C1046.8 2156.0 1056.6 2164.8 1063.2 2165.8 C1069.8 2166.8 1077.6 2162.2 1082.9 2159.9 C1088.2 2157.6 1092.8 2153.3 1094.8 2152" stroke-width="3.56"/>
<ellipse cx="1046.6" cy="2069.1" rx="4.7" ry="2.4" transform="rotate(-30 1046.6 2069.1)" stroke-width="2.54"/>
<path d="M1011.9 2108.6 L976.4 2128.3" stroke-width="3.56"/>
<path d="M966.5 2133.5 L970.4 2131.5" stroke-width="3.56"/>
<path d="M956.6 2140.2 L936.9 2152" stroke-width="3.56"/>
<path d="M1055.3 2146.1 L956.6 2199.4" stroke-width="3.56"/>
<path d="M936.9 2154 C931.6 2153.3 915.2 2149.3 905.3 2150 C895.4 2150.7 885.6 2152.0 877.7 2157.9 C869.8 2163.8 862.2 2175.7 857.9 2185.6 C853.6 2195.5 850.7 2208.0 852 2217.2 C853.3 2226.4 858.2 2234.6 865.8 2240.8 C873.4 2247.1 887.5 2254.0 897.4 2254.7 C907.3 2255.4 917.1 2251.7 925 2244.8 C932.9 2237.9 939.5 2220.8 944.8 2213.2 C950.1 2205.6 954.6 2201.7 956.6 2199.4" stroke-width="3.56"/>
<path d="M909.2 2169.8 C912.5 2169.1 922.4 2164.5 929 2165.8 C935.6 2167.1 944.1 2172.1 948.7 2177.7 C953.3 2183.3 955.3 2195.8 956.6 2199.4" stroke-width="3.56"/>
<path d="M936.9 2154 C939.5 2156.6 949.1 2163.2 952.7 2169.8 C956.3 2176.4 957.6 2189.6 958.6 2193.5" stroke-width="3.56"/>
<ellipse cx="915.2" cy="2213.2" rx="13" ry="20.5" transform="rotate(25 915.2 2213.2)" stroke-width="3.56"/>
<path d="M882.4 2215.2 L882.4 2244.8" stroke-width="3.56"/>
<path d="M700 1988.2 L824.4 1955.8"/>
<path d="M738.7 2073.1 L897.4 2000"/>
<path d="M852 2132.3 L974.4 2043.4"/>
<path d="M1013.9 2039.5 L1037.5 2054.5"/>
<path d="M966.5 1944.7 L1086.1 1879.6 L1088.9 2011.9"/>
<path d="M1090.8 2169.8 L1092 2250.7"/>
<path d="M1092 2304 L1094.8 2450.1"/>
<path d="M1237.7 2170.6 L1234.9 2223.1"/>
<path d="M640.8 2311.9 L986.2 2300.1 L990.2 2341.5"/>
<path d="M825.5 2402.7 L824.4 2450.1"/>
<path d="M958.6 2379 L970.4 2374.3"/>
<ellipse cx="838.2" cy="1936.1" rx="6.3" ry="8.7" transform="rotate(-30 838.2 1936.1)" stroke-width="3.56"/>
<ellipse cx="852" cy="1944.7" rx="7.9" ry="11.1" transform="rotate(-30 852 1944.7)" stroke-width="3.56"/>
<ellipse cx="867.8" cy="1952.6" rx="7.9" ry="11.1" transform="rotate(-30 867.8 1952.6)" stroke-width="3.56"/>
<path d="M850 1934.9 L865.8 1942.8" stroke-width="3.56"/>
<path d="M846.1 1954.6 L863.8 1963.3" stroke-width="3.56"/>
<path d="M903.3 1972.4 L921.1 1956.6 L940.8 1953.4 L956.6 1960.5 L952.7 1980.3 L960.6 1992.1 L956.6 2007.9 L940.8 2013.8 L925 2007.9 L921.1 1992.1 L903.3 1988.2 L903.3 1972.4" stroke-width="3.56"/>
<path d="M921.1 1956.6 L931 1972.4 L952.7 1980.3" stroke-width="3.56"/>
<path d="M931 1972.4 L927 1990.2" stroke-width="3.56"/>
<path d="M936.9 1953.4 C937.5 1952.3 938.5 1947.8 940.8 1946.7 C943.1 1945.6 948.2 1945.4 950.7 1946.7 C953.2 1948.0 954.9 1953.3 955.8 1954.6" stroke-width="3.56"/>
<path d="M929 1968.4 L944.8 1964.5 L952.7 1980.3 L936.9 1982.3 Z" fill="#000" stroke="none" stroke-width="0"/>
<ellipse cx="954.6" cy="2002" rx="7.1" ry="7.9" stroke-width="3.56"/>
<path d="M960.6 1998 L968.5 2000 L966.5 2009.9 L958.6 2009.9 Z" fill="#000" stroke="none" stroke-width="0"/>
<ellipse cx="932.9" cy="2000" rx="5.5" ry="7.1" stroke-width="3.56"/>
<ellipse cx="996.9" cy="2027.7" rx="9.5" ry="15.8" transform="rotate(30 996.9 2027.7)" stroke-width="4.57"/>
<path d="M1011.9 2359.3 C1014.5 2351.4 1019.2 2326.4 1027.7 2311.9 C1036.2 2297.4 1045.4 2283.6 1063.2 2272.4 C1081.0 2261.2 1109.3 2250.7 1134.3 2244.8 C1159.3 2238.9 1188.2 2236.9 1213.2 2236.9 C1238.2 2236.9 1264.5 2240.9 1284.3 2244.8 C1304.0 2248.8 1318.5 2255.0 1331.7 2260.6 C1344.9 2266.2 1358.0 2275.4 1363.2 2278.3" stroke-width="3.56"/>
<path d="M1035.6 2359.3 C1037.6 2353.4 1040.2 2335.5 1047.4 2323.7 C1054.6 2311.8 1064.5 2297.4 1079 2288.2 C1093.5 2279.0 1111.9 2273.1 1134.3 2268.5 C1156.7 2263.9 1189.5 2261.3 1213.2 2260.6 C1236.9 2259.9 1258.0 2261.2 1276.4 2264.5 C1294.8 2267.8 1311.3 2275.0 1323.8 2280.3 C1336.3 2285.6 1346.8 2293.5 1351.4 2296.1" stroke-width="3.56"/>
<path d="M1284.3 2264.5 L1296.1 2266.5 L1292.2 2260.6" stroke-width="3.05"/>
<path d="M1300.1 2270.5 L1311.9 2272.4 L1308 2266.5" stroke-width="3.05"/>
<path d="M1315.9 2278.3 L1327.7 2279.5 L1323.8 2273.2" stroke-width="3.05"/>
<path d="M1351.4 2296.1 L1363.2 2278.3 L1379 2284.3 L1386.9 2292.2 L1381 2311.9 L1367.2 2319.8 L1355.3 2313.9 L1347.5 2304" stroke-width="3.56"/>
<path d="M1363.2 2278.3 L1371.1 2296.1 L1367.2 2319.8" stroke-width="3.56"/>
<path d="M1371.1 2296.1 L1386.9 2292.2" stroke-width="3.56"/>
<ellipse cx="1366.4" cy="2287.4" rx="3.9" ry="2.8" stroke-width="3.05"/>
<ellipse cx="1378.2" cy="2304" rx="3.9" ry="2.8" stroke-width="3.05"/>
<ellipse cx="1359.3" cy="2308" rx="3.9" ry="2.8" stroke-width="3.05"/>
<path d="M978.3 2353.4 L1031.6 2350.6" stroke-width="3.56"/>
<path d="M979.5 2365.2 L1033.6 2363.2" stroke-width="3.56"/>
<path d="M978.3 2353.4 C978.0 2354.4 976.2 2357.3 976.4 2359.3 C976.6 2361.3 979.0 2364.2 979.5 2365.2" stroke-width="3.56"/>
<ellipse cx="985" cy="2359.3" rx="3.2" ry="3.2" stroke-width="3.05"/>
<path d="M992.1 2353.4 L992.9 2365.2" stroke-width="3.56"/>
<path d="M1031.6 2350.6 L1034.8 2363.2" stroke-width="3.56"/>
<!-- 17_detB_left.py -->
<path d="M629.7 2005.3 L700 1987.5"/>
<path d="M420.5 2146.6 L485.6 2166.3"/>
<path d="M426.4 2280.8 L483.6 2269"/>
<path d="M514.4 2301.4 L515.2 2313.2 L848.8 2305.3"/>
<ellipse cx="511.3" cy="2135.6" rx="23.7" ry="11.8" stroke-width="4.32"/>
<path d="M487.6 2135.6 L487.6 2153.3 L499.4 2166.3 L523.1 2166.3 L534.9 2153.3 L534.9 2135.6" stroke-width="4.32"/>
<path d="M500.2 2147.4 L499.4 2166.3" stroke-width="4.32"/>
<path d="M522.3 2147.4 L523.1 2166.3" stroke-width="4.32"/>
<path d="M487.6 2153.3 C488.9 2152.7 496.7 2148.0 500.2 2147.4 C503.7 2146.8 518.8 2146.8 522.3 2147.4 C525.8 2148.0 533.6 2152.7 534.9 2153.3" stroke-width="4.32"/>
<path d="M500.2 2166.3 L501.4 2224.4" stroke-width="4.32"/>
<path d="M523.1 2166.3 L524.3 2224.4" stroke-width="4.32"/>
<path d="M500.6 2177 C502.5 2177.7 508.1 2181.0 512 2181 C515.9 2181.0 521.9 2177.7 523.9 2177" stroke-width="4.32"/>
<path d="M500.6 2188.8 C502.5 2189.5 508.1 2192.8 512 2192.8 C515.9 2192.8 521.9 2189.5 523.9 2188.8" stroke-width="4.32"/>
<path d="M500.6 2200.7 C502.5 2201.3 508.1 2204.6 512 2204.6 C515.9 2204.6 521.9 2201.3 523.9 2200.7" stroke-width="4.32"/>
<path d="M500.6 2212.5 C502.5 2213.2 508.1 2216.5 512 2216.5 C515.9 2216.5 521.9 2213.2 523.9 2212.5" stroke-width="4.32"/>
<path d="M500.6 2224.4 C502.5 2225.1 508.1 2228.3 512 2228.3 C515.9 2228.3 521.9 2225.1 523.9 2224.4" stroke-width="4.32"/>
<path d="M501.4 2224.4 C503.3 2225.5 509.0 2231.1 512.8 2231.1 C516.6 2231.1 522.4 2225.5 524.3 2224.4" stroke-width="4.32"/>
<ellipse cx="517.2" cy="2269" rx="22.9" ry="11.8" stroke-width="4.57"/>
<ellipse cx="515.2" cy="2267.8" rx="8.7" ry="5.5" stroke-width="3.81"/>
<path d="M513.2 2256 L514 2265.8" stroke-width="3.81"/>
<!-- 18_detB_left2.py -->
<path d="M112.5 2646.7 L137.4 2761.2"/>
<path d="M209.2 2702 L214 2794.8"/>
<path d="M300.8 2757.3 L278.3 2816.5"/>
<path d="M467.8 2745.4 L486.4 2810.6"/>
<path d="M556.7 2536.2 L557.4 2603.3"/>
<path d="M649.4 2573.7 L651.4 2725.7"/>
<path d="M75 2767.2 L84.9 2749.4 L100.7 2743.5 L116.5 2751.4 L120.4 2771.1 L114.5 2788.9 L96.7 2794 L80.9 2784.9 L75 2767.2" stroke-width="4.32"/>
<path d="M84.9 2749.4 L94.7 2767.2 L96.7 2794" stroke-width="4.32"/>
<path d="M94.7 2767.2 L116.5 2751.4" stroke-width="4.32"/>
<ellipse cx="105.8" cy="2773.1" rx="8.7" ry="12.6" transform="rotate(-20 105.8 2773.1)" stroke-width="4.32"/>
<path d="M108.6 2761.2 L165.8 2790.8" stroke-width="4.32"/>
<path d="M102.6 2784.9 L157.9 2814.5" stroke-width="4.32"/>
<ellipse cx="129.5" cy="2790.8" rx="5.5" ry="10.3" transform="rotate(-25 129.5 2790.8)" stroke-width="4.32"/>
<ellipse cx="141.3" cy="2796.8" rx="5.5" ry="10.3" transform="rotate(-25 141.3 2796.8)" stroke-width="4.32"/>
<ellipse cx="153.2" cy="2802.7" rx="5.5" ry="10.3" transform="rotate(-25 153.2 2802.7)" stroke-width="4.32"/>
<ellipse cx="165" cy="2808.6" rx="5.5" ry="10.3" transform="rotate(-25 165 2808.6)" stroke-width="4.32"/>
<path d="M215.2 2810.6 C213.5 2809.6 208.9 2804.7 205.3 2804.7 C201.7 2804.7 196.7 2806.7 193.4 2810.6 C190.1 2814.5 186.2 2822.7 185.6 2828.3 C184.9 2833.9 186.9 2840.8 189.5 2844.1 C192.1 2847.4 198.3 2848.4 201.3 2848.1 C204.3 2847.8 206.3 2843.2 207.3 2842.2" stroke-width="4.32"/>
<path d="M215.2 2810.6 C215.5 2812.2 217.8 2817.6 217.1 2820.5 C216.4 2823.4 212.2 2827.0 211.2 2828.3" stroke-width="4.32"/>
<path d="M211.2 2828.3 C209.9 2827.3 205.6 2822.4 203.3 2822.4 C201.0 2822.4 198.1 2826.0 197.4 2828.3 C196.8 2830.6 197.8 2833.9 199.4 2836.2 C201.1 2838.5 206.0 2841.2 207.3 2842.2" stroke-width="4.32"/>
<path d="M252.7 2836.2 L276.4 2823.2 L294.1 2828.3 L292.1 2854 L298.1 2877.7 L294.1 2893.5 L300 2903.4 L272.4 2913.2 L256.6 2903.4 L252.7 2836.2" stroke-width="4.32"/>
<path d="M276.4 2826.4 L278.3 2889.5" stroke-width="4.32"/>
<path d="M284.2 2830.3 L285 2891.5" stroke-width="4.32"/>
<path d="M256.6 2903.4 C259.2 2901.8 266.5 2894.5 272.4 2893.5 C278.3 2892.5 288.8 2896.8 292.1 2897.4" stroke-width="4.32"/>
<path d="M264.5 2842.2 C264.2 2844.2 261.5 2851.1 262.5 2854 C263.5 2856.9 269.7 2856.6 270.4 2859.9 C271.1 2863.2 266.2 2870.1 266.5 2873.7 C266.8 2877.3 271.4 2880.3 272.4 2881.6" stroke-width="4.32"/>
<ellipse cx="271.6" cy="2865.9" rx="3.2" ry="4.7" stroke-width="3.05"/>
<path d="M546.8 2656.6 C546.2 2664.5 542.1 2722.2 540.9 2735.6 C539.7 2749.0 536.5 2783.9 534.9 2790.8 C533.3 2797.7 526.1 2803.3 525.1 2804.7" stroke-width="4.32"/>
<path d="M525.1 2804.7 L118.4 2996.1" stroke-width="4.32"/>
<path d="M548.8 2814.5 L129.7 3013.7 L121 3009 L118.4 2996" stroke-width="4.32"/>
<path d="M615.9 2933 L220 3121 L222 3134 L228 3139 L648 2941" stroke-width="4.32"/>
<path d="M558.4 2988 L583.8 3047.6"/>
<path d="M570.5 2656.6 C570.0 2664.5 566.3 2721.4 565.3 2735.6 C564.3 2749.8 562.2 2790.8 560.6 2798.7 C559.0 2806.6 550.0 2812.9 548.8 2814.5" stroke-width="4.32"/>
<path d="M540.9 2631 L546.8 2617.9 L558.6 2615.2 L570.5 2617.9 L575.6 2631 L572.4 2648.7 L566.5 2657.4 L548.8 2657.4 L541.7 2648.7 L540.9 2631" stroke-width="5.08"/>
<ellipse cx="557.4" cy="2642.8" rx="10.3" ry="7.9" stroke-width="5.08"/>
<path d="M546.8 2621.1 L557.4 2629 L569.3 2621.1" stroke-width="4.32"/>
<path d="M557.4 2616.3 L557.4 2629" stroke-width="4.32"/>
<path d="M546.8 2652.7 L546.8 2660.6" stroke-width="4.32"/>
<path d="M570.5 2652.7 L570.5 2660.6" stroke-width="4.32"/>
<path d="M639.6 2775 C639.0 2782.9 634.8 2839.4 633.6 2854 C632.4 2868.6 629.5 2913.2 627.7 2921.1 C625.9 2929.0 617.1 2931.8 615.9 2933" stroke-width="4.32"/>
<path d="M663.2 2775 C662.6 2782.9 658.5 2838.6 657.3 2854 C656.1 2869.4 653.2 2919.9 651.4 2929 C649.6 2938.1 640.8 2943.2 639.6 2944.8" stroke-width="4.32"/>
<path d="M631.7 2753.3 L636.4 2740.3 L649.4 2736.4 L663.2 2740.3 L668 2753.3 L665.2 2769.1 L658.5 2777 L641.5 2777 L633.6 2769.1 L631.7 2753.3" stroke-width="5.08"/>
<ellipse cx="649.4" cy="2764" rx="10.3" ry="7.9" stroke-width="5.08"/>
<path d="M638.8 2742.7 L649.4 2750.6 L661.3 2742.7" stroke-width="4.32"/>
<path d="M649.4 2737.5 L649.4 2750.6" stroke-width="4.32"/>
<!-- 19_swivelB.py -->
<path d="M825.7 2401.3 L821.8 2484.2"/>
<path d="M755.8 2496.1 L763.7 2529.6"/>
<path d="M1133.6 2809.9 L1123.8 2890.9"/>
<path d="M711.2 2621.6 L734.9 2609.8 L1092.2 2808 L1115.9 2796.1"/>
<path d="M713.2 2588.8 L748.7 2566.3"/>
<path d="M1092.2 2338.2 L1096.1 2500 L1135.6 2480.3"/>
<ellipse cx="770.4" cy="2552.1" rx="9.9" ry="16.6" transform="rotate(-25 770.4 2552.1)" stroke-width="4.83"/>
<ellipse cx="1134.8" cy="2781.1" rx="9.9" ry="16.6" transform="rotate(-25 1134.8 2781.1)" stroke-width="4.83"/>
<ellipse cx="802" cy="2532.4" rx="6.3" ry="8.7" transform="rotate(-25 802 2532.4)" stroke-width="4.32"/>
<path d="M800 2523.7 L811.9 2517.8" stroke-width="4.32"/>
<path d="M806 2540.3 L819.8 2535.6" stroke-width="4.32"/>
<path d="M811.9 2517.8 C811.2 2519.1 807.9 2522.4 807.9 2525.7 C807.9 2529.0 809.9 2535.8 811.9 2537.5 C813.9 2539.2 818.5 2535.9 819.8 2535.6" stroke-width="4.32"/>
<path d="M807.9 2511.9 L827.7 2498 L843.5 2500 L851.4 2511.9 L849.4 2527.7 L835.6 2539.5 L819.8 2541.5 L811.9 2531.6 L807.9 2511.9" stroke-width="4.32"/>
<path d="M827.7 2498 L831.6 2515.8 L835.6 2539.5" stroke-width="4.32"/>
<path d="M831.6 2515.8 L851.4 2511.9" stroke-width="4.32"/>
<path d="M843.5 2500 C845.5 2498.4 851.7 2491.5 855.3 2490.2 C858.9 2488.9 862.9 2490.1 865.2 2492.1 C867.5 2494.1 869.4 2498.7 869.1 2502 C868.8 2505.3 866.2 2509.6 863.2 2511.9 C860.2 2514.2 853.4 2515.2 851.4 2515.8" stroke-width="4.32"/>
<path d="M855.3 2491.3 C856.1 2493.1 859.7 2498.2 860 2502 C860.3 2505.8 857.8 2511.8 857.3 2513.8" stroke-width="4.32"/>
<ellipse cx="802" cy="2532.4" rx="2.4" ry="3.2" stroke-width="2.54"/>
<ellipse cx="1167.2" cy="2769.3" rx="6.3" ry="8.7" transform="rotate(-25 1167.2 2769.3)" stroke-width="4.32"/>
<path d="M1165.2 2760.6 L1177.1 2754.7" stroke-width="4.32"/>
<path d="M1171.1 2777.2 L1185 2772.4" stroke-width="4.32"/>
<path d="M1177.1 2754.7 C1176.4 2756.0 1173.1 2759.3 1173.1 2762.6 C1173.1 2765.9 1175.1 2772.8 1177.1 2774.4 C1179.1 2776.0 1183.7 2772.7 1185 2772.4" stroke-width="4.32"/>
<path d="M1173.1 2748.7 L1192.9 2734.9 L1208.6 2736.9 L1216.5 2748.7 L1214.6 2764.5 L1200.8 2776.4 L1185 2778.3 L1177.1 2768.5 L1173.1 2748.7" stroke-width="4.32"/>
<path d="M1192.9 2734.9 L1196.8 2752.7 L1200.8 2776.4" stroke-width="4.32"/>
<path d="M1196.8 2752.7 L1216.5 2748.7" stroke-width="4.32"/>
<path d="M1208.6 2736.9 C1210.6 2735.2 1216.9 2728.3 1220.5 2727 C1224.1 2725.7 1228.1 2727.0 1230.4 2729 C1232.7 2731.0 1234.6 2735.6 1234.3 2738.9 C1234.0 2742.2 1231.4 2746.4 1228.4 2748.7 C1225.4 2751.0 1218.5 2752.0 1216.5 2752.7" stroke-width="4.32"/>
<path d="M1220.5 2728.2 C1221.3 2730.0 1224.9 2735.2 1225.2 2738.9 C1225.5 2742.7 1223.0 2748.7 1222.5 2750.7" stroke-width="4.32"/>
<ellipse cx="1167.2" cy="2769.3" rx="2.4" ry="3.2" stroke-width="2.54"/>
<ellipse cx="894.8" cy="2480.3" rx="11.8" ry="16.6" transform="rotate(-25 894.8 2480.3)" stroke-width="4.32"/>
<ellipse cx="894.8" cy="2480.3" rx="3.9" ry="5.5" transform="rotate(-25 894.8 2480.3)" stroke-width="4.32"/>
<path d="M888.9 2465.3 L918.5 2448.7" stroke-width="4.32"/>
<path d="M902.7 2496.1 L930.3 2480.3" stroke-width="4.32"/>
<path d="M918.5 2448.7 C920.1 2450.7 926.3 2455.2 928.3 2460.5 C930.3 2465.8 930.0 2477.0 930.3 2480.3" stroke-width="4.32"/>
<path d="M910.6 2453.4 C912.0 2455.6 917.6 2461.0 919.3 2466.5 C920.9 2472.0 920.3 2482.9 920.5 2486.2" stroke-width="4.32"/>
<path d="M928.3 2450.7 L942.2 2438.8" stroke-width="4.32"/>
<path d="M932.3 2476.3 L954 2464.5" stroke-width="4.32"/>
<path d="M942.2 2438.8 C943.5 2440.5 948.1 2444.4 950.1 2448.7 C952.1 2453.0 953.4 2461.9 954 2464.5" stroke-width="4.32"/>
<path d="M942.2 2438.8 C949.0 2434.3 984.6 2412.4 993.5 2405.3 C1002.4 2398.2 1006.7 2391.3 1009.3 2385.5 C1011.9 2379.7 1012.7 2365.0 1013.2 2361.8" stroke-width="4.32"/>
<path d="M954 2464.5 C961.9 2459.2 1003.2 2433.4 1013.2 2425 C1023.2 2416.6 1026.1 2409.7 1029 2401.3 C1031.9 2392.9 1034.1 2367.1 1034.9 2361.8" stroke-width="4.32"/>
<path d="M959.9 2442.8 L963.9 2448.7" stroke-width="3.05"/>
<path d="M971.8 2436.1 L975.7 2441.6" stroke-width="3.05"/>
<path d="M983.6 2429 L987.6 2434.5" stroke-width="3.05"/>
<path d="M979.7 2353.9 L1013.2 2352 L1013.2 2363.8 L979.7 2365.8 Z" fill="#000" stroke="none" stroke-width="0"/>
<ellipse cx="987.6" cy="2358.7" rx="3.9" ry="3.2" stroke-width="0" fill="#fff"/>
<path d="M993.5 2355.9 L1011.3 2354.7 L1011.3 2361.1 L993.5 2361.8 Z" fill="#fff" stroke="none" stroke-width="0"/>
<ellipse cx="1149.4" cy="2468.4" rx="14.2" ry="18.9" transform="rotate(-25 1149.4 2468.4)" stroke-width="4.32"/>
<ellipse cx="1149.4" cy="2468.4" rx="3.9" ry="5.5" transform="rotate(-25 1149.4 2468.4)" stroke-width="4.32"/>
<path d="M1143.5 2450.7 L1171.1 2436.9" stroke-width="4.32"/>
<path d="M1159.3 2486.2 L1179 2474.4" stroke-width="4.32"/>
<path d="M1171.1 2436.9 C1172.4 2439.5 1177.7 2446.3 1179 2452.6 C1180.3 2458.8 1179.0 2470.8 1179 2474.4" stroke-width="4.32"/>
<path d="M1179 2444.7 L1200 2430.9" stroke-width="4.32"/>
<path d="M1185 2464.5 L1200 2454.6" stroke-width="4.32"/>
<path d="M655.9 2415.1 C658.9 2415.8 668.9 2416.1 673.7 2419.1 C678.5 2422.1 682.9 2430.6 684.8 2432.9" stroke-width="4.32"/>
<path d="M684.8 2429 L688.7 2515.8" stroke-width="4.32"/>
<path d="M657.9 2427 C659.2 2427.3 664.8 2427.7 665.8 2429 C666.8 2430.3 664.1 2433.9 663.8 2434.9"/>
<path d="M669.8 2434.9 C671.4 2435.6 677.6 2436.5 679.6 2438.8 C681.6 2441.1 681.3 2447.0 681.6 2448.7"/>
<path d="M673.7 2452.6 L682.4 2454.6"/>
<path d="M669.8 2466.5 L683.6 2462.5"/>
<path d="M592.8 2480.3 L603.4 2482.3 L604.6 2511.9 L588.8 2523.7" stroke-dasharray="18 10"/>
<path d="M640.2 2498 C640.4 2500.3 639.7 2508.9 641.3 2511.9 C642.9 2514.9 647.2 2515.8 650 2515.8 C652.8 2515.8 656.4 2514.9 657.9 2511.9 C659.4 2508.9 658.6 2500.3 658.7 2498" stroke-width="4.32"/>
<path d="M557.2 2533.6 L650 2531.6 L650.8 2526.9" stroke-width="4.32"/>
<path d="M557.2 2533.6 L559.2 2602.7"/>
<path d="M575 2549.4 C575.7 2553.0 574.4 2564.5 579 2571.1 C583.6 2577.7 592.7 2584.5 602.6 2588.8 C612.5 2593.1 632.3 2595.4 638.2 2596.7" stroke-width="4.32"/>
<path d="M661.9 2597.9 C667.1 2596.7 684.5 2595.3 693.4 2590.8 C702.3 2586.3 710.6 2578.3 715.2 2571.1 C719.8 2563.9 721.4 2554.6 721.1 2547.4 C720.8 2540.2 718.5 2533.3 713.2 2527.7 C707.9 2522.1 693.5 2516.1 689.5 2513.8" stroke-width="4.32"/>
<path d="M579 2555.3 C582.9 2558.9 593.4 2572.7 602.6 2577 C611.8 2581.3 628.9 2580.3 634.2 2581"/>
<path d="M640.2 2543.4 C640.4 2546.0 639.7 2555.9 641.3 2559.2 C642.9 2562.5 647.2 2563.2 650 2563.2 C652.8 2563.2 656.4 2562.5 657.9 2559.2 C659.4 2555.9 658.6 2546.0 658.7 2543.4" stroke-width="4.32"/>
<path d="M584.9 2549.4 C585.5 2550.7 586.5 2556.3 588.8 2557.3 C591.1 2558.3 597.1 2555.6 598.7 2555.3"/>
<path d="M624.4 2569.1 C625.0 2570.4 626.0 2576.0 628.3 2577 C630.6 2578.0 636.6 2575.3 638.2 2575"/>
<path d="M691.5 2523.7 C692.5 2525.0 694.8 2530.6 697.4 2531.6 C700.0 2532.6 705.6 2529.9 707.3 2529.6"/>
<path d="M689.5 2561.2 C690.5 2562.5 692.8 2568.8 695.4 2569.1 C698.0 2569.4 703.6 2564.2 705.3 2563.2"/>
<path d="M612.5 2545.4 L622.4 2555.3"/>
<path d="M669.8 2555.3 L685.6 2547.4"/>
<path d="M697.4 2575 L709.2 2559.2"/>
<path d="M600.7 2594.8 L601.9 2657.9" stroke-width="4.32"/>
<path d="M601.9 2657.9 C604.0 2661.2 608.1 2673.4 614.5 2677.7 C620.9 2682.0 635.9 2682.6 640.2 2683.6" stroke-width="4.32"/>
<path d="M701.3 2592.8 L703.3 2657.9 L659.9 2680.8" stroke-width="4.32"/>
<path d="M649.2 2571.1 L652 2725"/>
<path d="M661.9 2610.6 L667.8 2612.5"/>
<path d="M669.8 2622.4 L673.7 2626.4"/>
<path d="M689.5 2626.4 L695.4 2628.3"/>
<path d="M681.6 2654 L687.5 2657.9"/>
<path d="M685.6 2644.1 L689.5 2640.2"/>
<!-- 20_detB_mid.py -->
<path d="M1544.1 2355.3 L1455.3 2410.6"/>
<path d="M1546.1 2452 L1473.1 2471.8"/>
<path d="M1467.2 2554.7 L1552 2566.5"/>
<path d="M1257.1 2473.7 L1232.3 2560.6"/>
<path d="M1526.4 2150 L1705.2 2249.9"/>
<path d="M1711.9 2661.3 L1800 2714.5"/>
<path d="M1100 2499.4 L1133.6 2481.6"/>
<ellipse cx="1151.3" cy="2465.8" rx="15.8" ry="21.7" transform="rotate(-20 1151.3 2465.8)" stroke-width="4.32"/>
<ellipse cx="1148.2" cy="2469.8" rx="3.9" ry="5.5" transform="rotate(-20 1148.2 2469.8)" stroke-width="4.32"/>
<path d="M1143.4 2446.9 L1167.1 2454" stroke-width="4.32"/>
<path d="M1159.2 2485.6 L1175 2471.8" stroke-width="4.32"/>
<path d="M1167.1 2454 C1168.1 2455.7 1171.7 2460.9 1173 2463.9 C1174.3 2466.9 1174.7 2470.5 1175 2471.8" stroke-width="4.32"/>
<path d="M1167.1 2454 L1184.9 2440.2" stroke-width="4.32"/>
<path d="M1175 2471.8 L1192.8 2452" stroke-width="4.32"/>
<path d="M1184.9 2440.2 C1186.0 2441.0 1190.3 2443.3 1191.6 2445.3 C1192.9 2447.3 1192.6 2450.9 1192.8 2452" stroke-width="4.32"/>
<path d="M1191.6 2436.2 C1193.5 2434.9 1211.6 2422.0 1214.5 2420.8 C1217.4 2419.7 1218.7 2418.7 1226.3 2422.4 C1233.9 2426.2 1297.7 2462.2 1305.3 2465.8 C1312.9 2469.4 1309.2 2470.1 1317.1 2465.8 C1325.0 2461.5 1393.1 2418.8 1400 2414.5" stroke-width="4.32"/>
<path d="M1192.8 2452 C1194.3 2451.0 1208.4 2441.2 1210.5 2440.2 C1212.6 2439.2 1211.2 2436.6 1218.4 2440.2 C1225.6 2443.8 1289.5 2479.7 1297.4 2483.6 C1305.3 2487.5 1310.9 2487.7 1313.2 2487.5 C1315.5 2487.3 1316.8 2486.7 1325 2481.6 C1333.2 2476.5 1404.7 2431.0 1411.9 2426.4" stroke-width="4.32"/>
<path d="M1423.7 2406.6 C1425.7 2403.3 1433.6 2396.8 1435.6 2386.9 C1437.6 2377.0 1435.6 2354.0 1435.6 2347.4" stroke-width="4.32"/>
<path d="M1443.5 2410.6 C1445.1 2407.3 1451.7 2401.3 1453.3 2390.8 C1454.9 2380.3 1453.3 2354.6 1453.3 2347.4" stroke-width="4.32"/>
<path d="M1392.1 2418.5 L1407.9 2406.6 L1451.4 2422.4 L1443.5 2434.2 L1435.6 2432.3 L1400 2422.4 L1392.1 2418.5" stroke-width="4.32"/>
<ellipse cx="1437.5" cy="2424.4" rx="2" ry="2" stroke-width="0" fill="#000"/>
<path d="M1407.9 2323.7 L1415.8 2317.8 L1427.7 2323.7 L1427.7 2335.6 L1415.8 2335.6 Z" fill="#000" stroke="none" stroke-width="0"/>
<path d="M1427.7 2323.7 L1455.3 2331.6 L1460 2339.5 L1457.3 2347.4 L1435.6 2347.4 L1423.7 2339.5" stroke-width="4.32"/>
<path d="M1447.4 2329.6 C1446.8 2330.9 1443.5 2334.7 1443.5 2337.5 C1443.5 2340.3 1446.8 2345.1 1447.4 2346.6" stroke-width="4.32"/>
<ellipse cx="1446.6" cy="2483.6" rx="23.7" ry="14.2" stroke-width="4.32"/>
<ellipse cx="1445.4" cy="2483.6" rx="9.9" ry="5.9" stroke-width="4.32"/>
<ellipse cx="1444.3" cy="2523.1" rx="11.1" ry="5.5" stroke-width="4.32"/>
<path d="M1433.6 2523.1 L1434.8 2596.1" stroke-width="4.32"/>
<path d="M1455.3 2523.1 L1455.3 2596.1" stroke-width="4.32"/>
<path d="M1434 2538.9 C1435.8 2539.6 1441.2 2542.8 1444.7 2542.8 C1448.2 2542.8 1453.5 2539.6 1455.3 2538.9" stroke-width="4.32"/>
<path d="M1434 2554.7 C1435.8 2555.3 1441.2 2558.6 1444.7 2558.6 C1448.2 2558.6 1453.5 2555.3 1455.3 2554.7" stroke-width="4.32"/>
<path d="M1434 2570.5 C1435.8 2571.2 1441.2 2574.4 1444.7 2574.4 C1448.2 2574.4 1453.5 2571.2 1455.3 2570.5" stroke-width="4.32"/>
<path d="M1434 2584.3 C1435.8 2585.0 1441.2 2588.2 1444.7 2588.2 C1448.2 2588.2 1453.5 2585.0 1455.3 2584.3" stroke-width="4.32"/>
<ellipse cx="1445.4" cy="2592.2" rx="23.7" ry="11.1" stroke-width="4.32"/>
<path d="M1421.8 2592.2 L1422.9 2611.9 L1433.6 2623 L1457.3 2623 L1469.1 2611.9 L1469.1 2592.2" stroke-width="4.32"/>
<path d="M1433.6 2604 L1433.6 2623" stroke-width="4.32"/>
<path d="M1457.3 2604 L1457.3 2623" stroke-width="4.32"/>
<path d="M1422.9 2609.9 C1424.0 2609.3 1430.2 2604.6 1433.6 2604 C1437.0 2603.4 1453.8 2603.4 1457.3 2604 C1460.8 2604.6 1467.9 2609.3 1469.1 2609.9" stroke-width="4.32"/>
<path d="M1779 2560.6 C1777.7 2567.8 1776.3 2590.2 1771.1 2604 C1765.8 2617.8 1760.7 2631.0 1747.5 2643.5 C1734.3 2656.0 1714.6 2669.8 1692.2 2679 C1669.8 2688.2 1640.5 2694.2 1613.2 2698.8 C1585.9 2703.4 1542.5 2705.4 1528.3 2706.7" stroke-width="4.32"/>
<path d="M1751.4 2564.5 C1750.1 2569.8 1748.8 2584.9 1743.5 2596.1 C1738.2 2607.3 1731.6 2621.1 1719.8 2631.6 C1708.0 2642.1 1691.5 2651.7 1672.4 2659.3 C1653.3 2666.9 1629.6 2672.7 1605.3 2677 C1581.0 2681.3 1539.6 2683.6 1526.4 2684.9" stroke-width="4.32"/>
<path d="M1759.3 2519.1 L1771.1 2505.3 L1788.9 2507.3 L1795.6 2521.1 L1790.9 2544.8 L1779 2558.6 L1763.2 2560.6 L1753.4 2544.8 L1759.3 2519.1" stroke-width="4.32"/>
<path d="M1759.3 2519.1 L1777.1 2525 L1795.6 2521.1" stroke-width="4.32"/>
<path d="M1777.1 2525 L1779 2558.6" stroke-width="4.32"/>
<path d="M1755.3 2538.9 C1757.9 2539.9 1765.0 2544.8 1771.1 2544.8 C1777.2 2544.8 1788.3 2539.9 1791.7 2538.9" stroke-width="4.32"/>
<path d="M1771.1 2568.5 L1763.2 2574.4" stroke-width="3.05"/>
<path d="M1769.2 2582.3 L1760.1 2588.2" stroke-width="3.05"/>
<path d="M1763.2 2596.1 L1755.3 2602" stroke-width="3.05"/>
<path d="M1790.9 2473.7 L1781 2503.3"/>
<ellipse cx="1269.8" cy="2710.6" rx="14.2" ry="20.5" transform="rotate(-25 1269.8 2710.6)" stroke-width="4.32"/>
<ellipse cx="1269" cy="2712.6" rx="3.9" ry="5.5" transform="rotate(-25 1269 2712.6)" stroke-width="4.32"/>
<path d="M1261.9 2692.8 L1285.6 2683" stroke-width="4.32"/>
<path d="M1277.7 2730.3 L1301.3 2714.5" stroke-width="4.32"/>
<path d="M1285.6 2683 C1287.6 2685.3 1294.8 2691.6 1297.4 2696.8 C1300.0 2702.1 1300.7 2711.6 1301.3 2714.5" stroke-width="4.32"/>
<path d="M1276.9 2686.9 C1278.7 2689.5 1285.3 2696.8 1287.5 2702.7 C1289.7 2708.6 1289.8 2719.1 1290.3 2722.4" stroke-width="4.32"/>
<path d="M1297.4 2684.9 L1309.2 2677" stroke-width="4.32"/>
<path d="M1303.3 2710.6 L1315.2 2700.7" stroke-width="4.32"/>
<path d="M1309.2 2677 C1313.8 2674.7 1325.7 2666.1 1336.9 2663.2 C1348.1 2660.2 1363.2 2658.6 1376.4 2659.3 C1389.6 2660.0 1404.0 2663.9 1415.8 2667.2 C1427.6 2670.5 1437.5 2676.7 1447.4 2679 C1457.3 2681.3 1470.4 2680.7 1475 2681" stroke-width="4.32"/>
<path d="M1315.2 2700.7 C1319.5 2697.8 1330.6 2686.9 1340.8 2683 C1351.0 2679.1 1363.9 2677.0 1376.4 2677 C1388.9 2677.0 1405.3 2680.0 1415.8 2683 C1426.3 2686.0 1435.5 2692.8 1439.5 2694.8" stroke-width="4.32"/>
<path d="M1329 2671.1 L1332.9 2679" stroke-width="3.05"/>
<path d="M1340.8 2668 L1344.8 2675.9" stroke-width="3.05"/>
<path d="M1354.6 2665.2 L1357.4 2673.1" stroke-width="3.05"/>
<path d="M1366.5 2665.2 L1368.5 2673.1" stroke-width="3.05"/>
<path d="M1443.5 2679 L1455.3 2722.4 L1471.1 2726.4 L1467.9 2716.5 L1457.3 2681" stroke-width="4.32"/>
<path d="M1453.3 2712.6 L1469.1 2715.3 L1471.9 2727.2 L1455.3 2723.2 Z" fill="#000" stroke="none" stroke-width="0"/>
<path d="M1471.1 2702.7 L1504.7 2665.2 L1524.4 2750.1"/>
<path d="M1481 2704.7 L1498.7 2705.9"/>
<path d="M1448.2 2730.3 L1446.6 2750.1"/>
<!-- 21_detB_bottom.py -->
<path d="M1211.3 2774.4 L1236.2 2822.9"/>
<path d="M1450.6 2730.9 L1435.6 2831.6"/>
<path d="M1603.4 2853.3 L1638.9 2926.4"/>
<path d="M1674.4 2782.3 L1721.8 2821.7"/>
<path d="M1517.7 2729 L1548.1 2863.2 L1569.8 2842.7"/>
<path d="M1100 2804 L1115.8 2796.1"/>
<ellipse cx="1593.5" cy="2817.8" rx="17.8" ry="19.7" transform="rotate(-20 1593.5 2817.8)" stroke-width="4.32"/>
<ellipse cx="1592.7" cy="2817.8" rx="8.7" ry="9.9" transform="rotate(-20 1592.7 2817.8)" stroke-width="4.32"/>
<ellipse cx="1684.3" cy="2733.7" rx="20.5" ry="22.9" transform="rotate(-20 1684.3 2733.7)" stroke-width="4.32"/>
<path d="M1652.7 2734.9 L1662.6 2717.1 L1676.4 2711.2" stroke-width="4.32"/>
<path d="M1652.7 2734.9 L1656.7 2750.7 L1672.4 2762.5 L1690.2 2755.8" stroke-width="4.32"/>
<path d="M1662.6 2717.1 L1668.5 2734.9 L1672.4 2762.5" stroke-width="4.32"/>
<path d="M1652.7 2734.9 L1668.5 2734.9" stroke-width="4.32"/>
<path d="M1654.7 2748.7 L1613.2 2786.2" stroke-width="4.32"/>
<path d="M1672.4 2764.5 L1631 2802" stroke-width="4.32"/>
<path d="M1642.8 2754.6 C1644.5 2755.6 1649.9 2757.9 1652.7 2760.5 C1655.5 2763.1 1658.3 2768.8 1659.4 2770.4" stroke-width="4.32"/>
<path d="M1631.8 2764.9 C1633.5 2765.9 1638.9 2768.2 1641.7 2770.8 C1644.5 2773.4 1647.3 2779.0 1648.4 2780.7" stroke-width="4.32"/>
<path d="M1620.7 2775.1 C1622.3 2776.1 1627.8 2778.5 1630.6 2781.1 C1633.4 2783.7 1636.2 2789.3 1637.3 2790.9" stroke-width="4.32"/>
<path d="M1609.7 2785.4 C1611.3 2786.4 1616.7 2788.7 1619.5 2791.3 C1622.3 2793.9 1625.2 2799.5 1626.3 2801.2" stroke-width="4.32"/>
<path d="M1613.2 2786.2 C1613.1 2787.8 1611.1 2793.3 1612.4 2796.1 C1613.7 2798.9 1618.0 2802.2 1621.1 2803.2 C1624.2 2804.2 1629.3 2802.2 1631 2802" stroke-width="4.32"/>
<!-- 22_detB_right.py -->
<path d="M1829.6 2345.9 L1892.8 2333.7"/>
<path d="M1826.9 2430.4 L1896 2430.4"/>
<path d="M1832.4 2599.4 L1894.8 2609.3"/>
<path d="M1712.4 2662.6 L1804 2717.8"/>
<path d="M1804 2475 L1808.7 2559.9"/>
<path d="M1791.4 2474.2 L1780.3 2502.7"/>
<path d="M1705.3 2250 L1798.1 2295.4 L1802 2303.3 L1803.2 2323"/>
<ellipse cx="1803.2" cy="2349.9" rx="15.8" ry="9.5" stroke-width="5.08"/>
<path d="M1796.1 2382.3 C1796.2 2380.8 1795.6 2375.2 1796.9 2373.2 C1798.2 2371.2 1801.6 2370.4 1804 2370.4 C1806.4 2370.4 1809.8 2371.2 1811.1 2373.2 C1812.4 2375.2 1811.8 2380.8 1811.9 2382.3" stroke-width="4.32"/>
<ellipse cx="1804" cy="2377.1" rx="3.2" ry="2.4" stroke-width="3.05"/>
<path d="M1785 2396.1 C1786.1 2394.9 1793.4 2385.4 1796.1 2384.2 C1798.8 2383.0 1809.2 2383.0 1811.9 2384.2 C1814.6 2385.4 1821.8 2394.9 1822.9 2396.1" stroke-width="4.32"/>
<path d="M1785 2396.1 L1785 2415.8 L1794.1 2425.7" stroke-width="4.32"/>
<path d="M1822.9 2396.1 L1822.9 2415.8 L1813.9 2425.7" stroke-width="4.32"/>
<path d="M1785 2398 C1788.2 2399.0 1797.7 2404.0 1804 2404 C1810.3 2404.0 1819.8 2399.0 1822.9 2398" stroke-width="4.32"/>
<ellipse cx="1791.4" cy="2409.9" rx="3.2" ry="5.5" stroke-width="3.05"/>
<ellipse cx="1804" cy="2411.9" rx="3.9" ry="5.5" stroke-width="3.05"/>
<ellipse cx="1816.6" cy="2409.9" rx="3.2" ry="5.5" stroke-width="3.05"/>
<path d="M1794.1 2425.7 C1795.8 2426.1 1800.7 2428.4 1804 2428.4 C1807.3 2428.4 1812.2 2426.1 1813.9 2425.7" stroke-width="4.32"/>
<path d="M1792.9 2425.7 L1792.1 2443.4" stroke-width="4.32"/>
<path d="M1815 2425.7 L1815.8 2441.5" stroke-width="4.32"/>
<path d="M1792.1 2435.6 C1794.1 2436.2 1800.0 2439.6 1804 2439.5 C1808.0 2439.4 1813.8 2435.6 1815.8 2434.8" stroke-width="4.32"/>
<path d="M1792.1 2443.4 C1794.1 2444.1 1800.0 2447.7 1804 2447.4 C1808.0 2447.1 1813.8 2442.5 1815.8 2441.5" stroke-width="4.32"/>
<ellipse cx="1796.1" cy="2452.1" rx="9.9" ry="7.1" transform="rotate(-20 1796.1 2452.1)" stroke-width="4.32"/>
<path d="M1788.2 2445.4 L1800 2443.4 L1806 2449.4 L1794.1 2453.3 Z" fill="#000" stroke="none" stroke-width="0"/>
<path d="M1798.1 2585.6 C1798.3 2584.2 1797.7 2578.9 1799.2 2576.9 C1800.7 2574.9 1804.5 2573.7 1807.1 2573.7 C1809.7 2573.7 1813.4 2574.9 1815 2576.9 C1816.6 2578.9 1816.3 2584.2 1816.6 2585.6" stroke-width="4.32"/>
<path d="M1794.1 2595.4 C1794.5 2594.4 1795.8 2586.6 1798.1 2585.6 C1800.3 2584.6 1814.3 2584.6 1816.6 2585.6 C1818.8 2586.6 1820.2 2594.4 1820.6 2595.4" stroke-width="4.32"/>
<path d="M1794.1 2595.4 C1796.3 2596.3 1802.7 2600.6 1807.1 2600.6 C1811.5 2600.6 1818.3 2596.3 1820.6 2595.4" stroke-width="4.32"/>
<path d="M1794.1 2595.4 L1796.1 2603.3" stroke-width="4.32"/>
<path d="M1820.6 2595.4 L1819 2603.3" stroke-width="4.32"/>
<path d="M1796.1 2603.3 C1797.9 2604.0 1803.3 2607.3 1807.1 2607.3 C1810.9 2607.3 1817.0 2604.0 1819 2603.3" stroke-width="4.32"/>
<path d="M1799.2 2607.3 C1799.5 2608.3 1799.3 2611.8 1800.8 2613.2 C1802.2 2614.6 1805.5 2615.6 1807.9 2615.6 C1810.3 2615.6 1813.5 2614.6 1815 2613.2 C1816.5 2611.8 1816.3 2608.3 1816.6 2607.3" stroke-width="4.32"/>
<path d="M1800 2581.6 L1815 2581.6" stroke-width="4.32"/>
</svg>
</body></html>
